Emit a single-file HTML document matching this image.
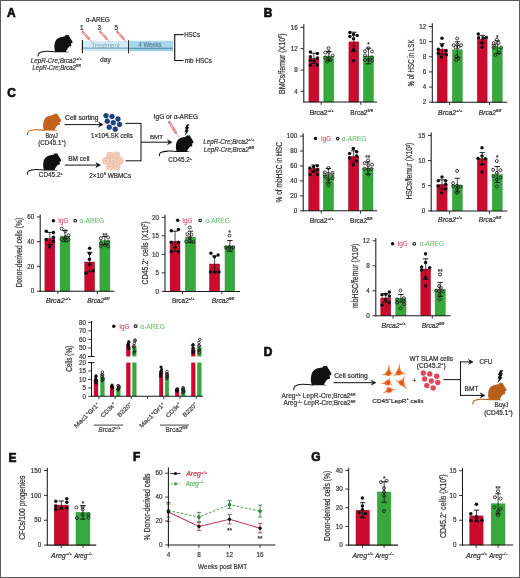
<!DOCTYPE html>
<html><head><meta charset="utf-8"><style>
html,body{margin:0;padding:0;background:#fff;}
body{width:520px;height:578px;overflow:hidden;}
svg{display:block;font-family:"Liberation Sans",sans-serif;will-change:transform;filter:blur(0.3px);}
</style></head><body>
<svg width="520" height="578" viewBox="0 0 520 578">
<rect x="0" y="0" width="520" height="578" fill="#fff"/>
<text x="6.95" y="17.25" font-size="11.9" text-anchor="start" fill="#111" font-weight="bold" stroke="#111" stroke-width="0.7">A</text>
<g transform="translate(54.4 34.8) scale(1)">
<path d="M6.6,95.5 C1,88 -1,72 0,60 C1,45 5,32 13.3,24.4 C20,18 27,14.5 35.5,13 C43,11.5 50,9.5 55.4,8.9 L58.5,6.7 C60,2 64,0 66.5,0.4 C69,0.8 71,2 72,3.5 C73.5,1.5 75.5,0 77.6,0.6 C79.5,1.5 81,6 82,10 C85,15 90,20 93,26.6 C96,31 99.5,36 100,40 C100,43 98,46 95.4,46.5 C93,47 91,47.5 88.7,48.8 C91,50 93.5,55 93,59.9 C92.5,63 90,64.5 86.5,64.3 C83,64 81.5,65 79.8,66.5 C76,70 73,74 70.9,77.6 C68,82 65.5,86 64.3,88.7 C65,91 65.5,92.5 66.5,93.1 L77.6,93.6 C78.5,94 78.5,95.6 77.6,95.6 Z" fill="#111" transform="scale(0.182)"/>
<path d="M1.5,17 C-2.5,16.7 -6,16.4 -8,16.5 C-10.5,16.7 -13,17.1 -14.9,17.9 C-15.9,18.5 -16.3,19.8 -16.3,21.2" fill="none" stroke="#111" stroke-width="1.05" stroke-linecap="round"/>
</g>
<text x="30.8" y="62.7" font-size="6.3" text-anchor="start" fill="#3a3a3a" stroke="#3a3a3a" stroke-width="0.22" font-style="italic" textLength="51" lengthAdjust="spacingAndGlyphs">LepR-Cre;Brca2<tspan dy="-2.8" font-size="4">+/+</tspan></text>
<text x="32.5" y="69.9" font-size="6.3" text-anchor="start" fill="#3a3a3a" stroke="#3a3a3a" stroke-width="0.22" font-style="italic" textLength="48.3" lengthAdjust="spacingAndGlyphs">LepR-Cre;Brca2<tspan dy="-2.8" font-size="4">fl/fl</tspan></text>
<rect x="82.5" y="41" width="46" height="6.6" fill="#d3ebf6"/>
<rect x="82.5" y="47.4" width="46" height="1.9" fill="#86b6cc"/>
<rect x="82.5" y="49.3" width="46" height="1.6" fill="#cde6f1"/>
<rect x="128.5" y="40.8" width="44.6" height="6.8" fill="#a8d7eb"/>
<rect x="128.5" y="47.5" width="44.6" height="2" fill="#5b9cba"/>
<rect x="128.5" y="49.5" width="44.6" height="1.7" fill="#9ccde3"/>
<text x="91.5" y="47.9" font-size="6.6" text-anchor="start" fill="#86a6b8" textLength="28.3" lengthAdjust="spacingAndGlyphs">Treatment</text>
<text x="138.5" y="47.4" font-size="6.6" text-anchor="start" fill="#3f6f8b" stroke="#3f6f8b" stroke-width="0.08" textLength="23" lengthAdjust="spacingAndGlyphs">4 Weeks</text>
<line x1="82.4" y1="40" x2="82.4" y2="53.2" stroke="#1a1a1a" stroke-width="1.15"/>
<line x1="128.5" y1="40.2" x2="128.5" y2="53.6" stroke="#1a1a1a" stroke-width="0.9"/>
<text x="85.8" y="22" font-size="6.5" text-anchor="start" fill="#333" stroke="#333" stroke-width="0.22" textLength="24" lengthAdjust="spacingAndGlyphs">&#945;-AREG</text>
<text x="100.1" y="62.1" font-size="6.8" text-anchor="start" fill="#333" stroke="#333" stroke-width="0.22" textLength="10.6" lengthAdjust="spacingAndGlyphs">day</text>
<text x="81.8" y="29.9" font-size="7.4" text-anchor="middle" fill="#333" stroke="#333" stroke-width="0.22" textLength="3.6" lengthAdjust="spacingAndGlyphs">1</text>
<text x="99.4" y="29.9" font-size="7.4" text-anchor="middle" fill="#333" stroke="#333" stroke-width="0.22" textLength="3.6" lengthAdjust="spacingAndGlyphs">3</text>
<text x="116.2" y="29.9" font-size="7.4" text-anchor="middle" fill="#333" stroke="#333" stroke-width="0.22" textLength="3.6" lengthAdjust="spacingAndGlyphs">5</text>
<g transform="translate(82.3 31.5) rotate(47.51)"><rect x="0" y="-0.45" width="1.6" height="0.9" fill="#c03048"/><rect x="-0.3" y="-1.5" width="0.7" height="3" fill="#c85068"/><rect x="1.6" y="-1" width="9" height="2" fill="#f4b8c0" stroke="#d45c70" stroke-width="0.5"/><rect x="5.95" y="-0.6" width="4.64" height="1.2" fill="#f08c70"/><line x1="10.6" y1="0" x2="14.51" y2="0" stroke="#c04a5a" stroke-width="0.45"/></g>
<g transform="translate(100.1 31.5) rotate(47.51)"><rect x="0" y="-0.45" width="1.6" height="0.9" fill="#c03048"/><rect x="-0.3" y="-1.5" width="0.7" height="3" fill="#c85068"/><rect x="1.6" y="-1" width="9" height="2" fill="#f4b8c0" stroke="#d45c70" stroke-width="0.5"/><rect x="5.95" y="-0.6" width="4.64" height="1.2" fill="#f08c70"/><line x1="10.6" y1="0" x2="14.51" y2="0" stroke="#c04a5a" stroke-width="0.45"/></g>
<g transform="translate(117 31.5) rotate(47.51)"><rect x="0" y="-0.45" width="1.6" height="0.9" fill="#c03048"/><rect x="-0.3" y="-1.5" width="0.7" height="3" fill="#c85068"/><rect x="1.6" y="-1" width="9" height="2" fill="#f4b8c0" stroke="#d45c70" stroke-width="0.5"/><rect x="5.95" y="-0.6" width="4.64" height="1.2" fill="#f08c70"/><line x1="10.6" y1="0" x2="14.51" y2="0" stroke="#c04a5a" stroke-width="0.45"/></g>
<line x1="174.7" y1="34.2" x2="174.7" y2="60.8" stroke="#1a1a1a" stroke-width="1.2"/>
<line x1="174.7" y1="34.6" x2="183.6" y2="34.6" stroke="#1a1a1a" stroke-width="1.1"/>
<line x1="174.7" y1="60.5" x2="183.6" y2="60.5" stroke="#1a1a1a" stroke-width="1.1"/>
<text x="184.2" y="36.9" font-size="6.6" text-anchor="start" fill="#333" stroke="#333" stroke-width="0.22" textLength="15.8" lengthAdjust="spacingAndGlyphs">HSCs</text>
<text x="184.8" y="62.9" font-size="6.6" text-anchor="start" fill="#333" stroke="#333" stroke-width="0.22" textLength="27.2" lengthAdjust="spacingAndGlyphs">mb HSCs</text>
<text x="263.75" y="17.05" font-size="11.9" text-anchor="start" fill="#111" font-weight="bold" stroke="#111" stroke-width="0.7">B</text>
<rect x="308.9" y="58.3" width="10" height="43.7" fill="#cc0a2e" stroke="#8e0a22" stroke-width="0.45"/>
<rect x="323.8" y="56.1" width="10" height="45.9" fill="#37a93c" stroke="#2a8a30" stroke-width="0.45"/>
<rect x="348.9" y="41.9" width="9.8" height="60.1" fill="#cc0a2e" stroke="#8e0a22" stroke-width="0.45"/>
<rect x="363.4" y="56" width="10" height="46" fill="#37a93c" stroke="#2a8a30" stroke-width="0.45"/>
<line x1="313.9" y1="53.2" x2="313.9" y2="63.4" stroke="#151515" stroke-width="0.8"/>
<line x1="311.2" y1="53.2" x2="316.6" y2="53.2" stroke="#151515" stroke-width="0.95"/>
<line x1="311.2" y1="63.4" x2="316.6" y2="63.4" stroke="#151515" stroke-width="0.95"/>
<circle cx="310.4" cy="52" r="1.75" fill="#111"/>
<circle cx="317.4" cy="53.6" r="1.75" fill="#111"/>
<circle cx="310.4" cy="56.7" r="1.75" fill="#111"/>
<circle cx="317.4" cy="58" r="1.75" fill="#111"/>
<circle cx="310.4" cy="60.2" r="1.75" fill="#111"/>
<circle cx="310.4" cy="65.3" r="1.75" fill="#111"/>
<circle cx="317.4" cy="65" r="1.75" fill="#111"/>
<circle cx="314" cy="61" r="1.75" fill="#111"/>
<line x1="328.8" y1="51.5" x2="328.8" y2="60.7" stroke="#151515" stroke-width="0.8"/>
<line x1="326.1" y1="51.5" x2="331.5" y2="51.5" stroke="#151515" stroke-width="0.95"/>
<line x1="326.1" y1="60.7" x2="331.5" y2="60.7" stroke="#151515" stroke-width="0.95"/>
<circle cx="328.5" cy="48.2" r="1.5" fill="none" stroke="#1e1e1e" stroke-width="0.85"/>
<circle cx="325.3" cy="52.6" r="1.5" fill="none" stroke="#1e1e1e" stroke-width="0.85"/>
<circle cx="328.8" cy="52" r="1.5" fill="none" stroke="#1e1e1e" stroke-width="0.85"/>
<circle cx="332.6" cy="55.5" r="1.5" fill="none" stroke="#1e1e1e" stroke-width="0.85"/>
<circle cx="325.3" cy="57.7" r="1.5" fill="none" stroke="#1e1e1e" stroke-width="0.85"/>
<circle cx="328.8" cy="58.3" r="1.5" fill="none" stroke="#1e1e1e" stroke-width="0.85"/>
<circle cx="330.4" cy="59.9" r="1.5" fill="none" stroke="#1e1e1e" stroke-width="0.85"/>
<circle cx="327.2" cy="61.5" r="1.5" fill="none" stroke="#1e1e1e" stroke-width="0.85"/>
<line x1="353.8" y1="32.2" x2="353.8" y2="51.6" stroke="#151515" stroke-width="0.8"/>
<line x1="351.1" y1="32.2" x2="356.5" y2="32.2" stroke="#151515" stroke-width="0.95"/>
<line x1="351.1" y1="51.6" x2="356.5" y2="51.6" stroke="#151515" stroke-width="0.95"/>
<circle cx="349.9" cy="32.6" r="1.75" fill="#111"/>
<circle cx="353.5" cy="34.5" r="1.75" fill="#111"/>
<circle cx="357.2" cy="35.5" r="1.75" fill="#111"/>
<circle cx="349.9" cy="36.5" r="1.75" fill="#111"/>
<circle cx="353.5" cy="38.8" r="1.75" fill="#111"/>
<circle cx="353.5" cy="49.7" r="1.75" fill="#111"/>
<circle cx="353.5" cy="60.8" r="1.75" fill="#111"/>
<line x1="368.4" y1="48.2" x2="368.4" y2="63.8" stroke="#151515" stroke-width="0.8"/>
<line x1="365.7" y1="48.2" x2="371.1" y2="48.2" stroke="#151515" stroke-width="0.95"/>
<line x1="365.7" y1="63.8" x2="371.1" y2="63.8" stroke="#151515" stroke-width="0.95"/>
<circle cx="368.4" cy="48.1" r="1.5" fill="none" stroke="#1e1e1e" stroke-width="0.85"/>
<circle cx="365" cy="51.2" r="1.5" fill="none" stroke="#1e1e1e" stroke-width="0.85"/>
<circle cx="372" cy="51.5" r="1.5" fill="none" stroke="#1e1e1e" stroke-width="0.85"/>
<circle cx="365" cy="55.4" r="1.5" fill="none" stroke="#1e1e1e" stroke-width="0.85"/>
<circle cx="372" cy="57.5" r="1.5" fill="none" stroke="#1e1e1e" stroke-width="0.85"/>
<circle cx="365" cy="59.8" r="1.5" fill="none" stroke="#1e1e1e" stroke-width="0.85"/>
<circle cx="372" cy="60.8" r="1.5" fill="none" stroke="#1e1e1e" stroke-width="0.85"/>
<circle cx="368.4" cy="59.8" r="1.5" fill="none" stroke="#1e1e1e" stroke-width="0.85"/>
<text x="368.4" y="47.1" font-size="6.4" text-anchor="middle" fill="#333" stroke="#333" stroke-width="0.22">*</text>
<line x1="303.8" y1="24.2" x2="303.8" y2="102.5" stroke="#1a1a1a" stroke-width="1.05"/>
<line x1="303.3" y1="102" x2="377" y2="102" stroke="#1a1a1a" stroke-width="1.05"/>
<line x1="300.5" y1="91.34" x2="303.8" y2="91.34" stroke="#1a1a1a" stroke-width="0.9"/>
<text x="297.8" y="93.58" font-size="6.3" text-anchor="end" fill="#3c3c3c" stroke="#3c3c3c" stroke-width="0.22">4</text>
<line x1="300.5" y1="70.02" x2="303.8" y2="70.02" stroke="#1a1a1a" stroke-width="0.9"/>
<text x="297.8" y="72.26" font-size="6.3" text-anchor="end" fill="#3c3c3c" stroke="#3c3c3c" stroke-width="0.22">8</text>
<line x1="300.5" y1="48.7" x2="303.8" y2="48.7" stroke="#1a1a1a" stroke-width="0.9"/>
<text x="297.8" y="50.94" font-size="6.3" text-anchor="end" fill="#3c3c3c" stroke="#3c3c3c" stroke-width="0.22">12</text>
<line x1="300.5" y1="27.38" x2="303.8" y2="27.38" stroke="#1a1a1a" stroke-width="0.9"/>
<text x="297.8" y="29.62" font-size="6.3" text-anchor="end" fill="#3c3c3c" stroke="#3c3c3c" stroke-width="0.22">16</text>
<line x1="321.2" y1="102" x2="321.2" y2="104.8" stroke="#1a1a1a" stroke-width="0.9"/>
<line x1="360.8" y1="102" x2="360.8" y2="104.8" stroke="#1a1a1a" stroke-width="0.9"/>
<text x="285.3" y="63.65" font-size="8.3" text-anchor="middle" fill="#333" stroke="#333" stroke-width="0.22" transform="rotate(-90 285.3 63.65)" textLength="60.7" lengthAdjust="spacingAndGlyphs">BMCs/femur (X10<tspan dy="-2.8" font-size="4.6">6</tspan><tspan dy="2.8">)</tspan></text>
<text x="321.8" y="114.8" font-size="6.6" text-anchor="middle" fill="#333" stroke="#333" stroke-width="0.22" textLength="24.2" lengthAdjust="spacingAndGlyphs">Brca2<tspan dy="-2.64" font-size="4.09">+/+</tspan></text>
<text x="361.5" y="114.8" font-size="6.6" text-anchor="middle" fill="#333" stroke="#333" stroke-width="0.22" textLength="22.4" lengthAdjust="spacingAndGlyphs">Brca2<tspan dy="-2.64" font-size="4.09">fl/fl</tspan></text>
<rect x="437.2" y="49.2" width="9.9" height="53" fill="#cc0a2e" stroke="#8e0a22" stroke-width="0.45"/>
<rect x="452.4" y="49.8" width="9.9" height="52.4" fill="#37a93c" stroke="#2a8a30" stroke-width="0.45"/>
<rect x="477.3" y="39.2" width="9.8" height="63" fill="#cc0a2e" stroke="#8e0a22" stroke-width="0.45"/>
<rect x="492.3" y="47.2" width="9.9" height="55" fill="#37a93c" stroke="#2a8a30" stroke-width="0.45"/>
<line x1="442.15" y1="43.7" x2="442.15" y2="54.7" stroke="#151515" stroke-width="0.8"/>
<line x1="439.45" y1="43.7" x2="444.85" y2="43.7" stroke="#151515" stroke-width="0.95"/>
<line x1="439.45" y1="54.7" x2="444.85" y2="54.7" stroke="#151515" stroke-width="0.95"/>
<circle cx="442" cy="38.2" r="1.75" fill="#111"/>
<circle cx="442" cy="45.2" r="1.75" fill="#111"/>
<circle cx="438.3" cy="49.2" r="1.75" fill="#111"/>
<circle cx="446" cy="50.8" r="1.75" fill="#111"/>
<circle cx="438.3" cy="53.2" r="1.75" fill="#111"/>
<circle cx="446.3" cy="54.8" r="1.75" fill="#111"/>
<circle cx="441.4" cy="56.9" r="1.75" fill="#111"/>
<line x1="457.35" y1="41.8" x2="457.35" y2="57.8" stroke="#151515" stroke-width="0.8"/>
<line x1="454.65" y1="41.8" x2="460.05" y2="41.8" stroke="#151515" stroke-width="0.95"/>
<line x1="454.65" y1="57.8" x2="460.05" y2="57.8" stroke="#151515" stroke-width="0.95"/>
<circle cx="457.1" cy="38.5" r="1.5" fill="none" stroke="#1e1e1e" stroke-width="0.85"/>
<circle cx="453.7" cy="45.2" r="1.5" fill="none" stroke="#1e1e1e" stroke-width="0.85"/>
<circle cx="457.4" cy="44.6" r="1.5" fill="none" stroke="#1e1e1e" stroke-width="0.85"/>
<circle cx="461.1" cy="45.2" r="1.5" fill="none" stroke="#1e1e1e" stroke-width="0.85"/>
<circle cx="455.5" cy="47.4" r="1.5" fill="none" stroke="#1e1e1e" stroke-width="0.85"/>
<circle cx="458.6" cy="46.8" r="1.5" fill="none" stroke="#1e1e1e" stroke-width="0.85"/>
<circle cx="456.5" cy="56.3" r="1.5" fill="none" stroke="#1e1e1e" stroke-width="0.85"/>
<circle cx="458.3" cy="58.2" r="1.5" fill="none" stroke="#1e1e1e" stroke-width="0.85"/>
<circle cx="456.2" cy="60" r="1.5" fill="none" stroke="#1e1e1e" stroke-width="0.85"/>
<line x1="482.2" y1="35.4" x2="482.2" y2="43" stroke="#151515" stroke-width="0.8"/>
<line x1="479.5" y1="35.4" x2="484.9" y2="35.4" stroke="#151515" stroke-width="0.95"/>
<line x1="479.5" y1="43" x2="484.9" y2="43" stroke="#151515" stroke-width="0.95"/>
<circle cx="478.3" cy="34" r="1.75" fill="#111"/>
<circle cx="478.6" cy="37.7" r="1.75" fill="#111"/>
<circle cx="483.2" cy="38" r="1.75" fill="#111"/>
<circle cx="486.3" cy="37.4" r="1.75" fill="#111"/>
<circle cx="482" cy="42.9" r="1.75" fill="#111"/>
<circle cx="482" cy="47.2" r="1.75" fill="#111"/>
<line x1="497.25" y1="40.8" x2="497.25" y2="53.6" stroke="#151515" stroke-width="0.8"/>
<line x1="494.55" y1="40.8" x2="499.95" y2="40.8" stroke="#151515" stroke-width="0.95"/>
<line x1="494.55" y1="53.6" x2="499.95" y2="53.6" stroke="#151515" stroke-width="0.95"/>
<circle cx="496.8" cy="39.8" r="1.5" fill="none" stroke="#1e1e1e" stroke-width="0.85"/>
<circle cx="493.7" cy="43.2" r="1.5" fill="none" stroke="#1e1e1e" stroke-width="0.85"/>
<circle cx="498.6" cy="42.9" r="1.5" fill="none" stroke="#1e1e1e" stroke-width="0.85"/>
<circle cx="493.7" cy="45.4" r="1.5" fill="none" stroke="#1e1e1e" stroke-width="0.85"/>
<circle cx="496.5" cy="45.1" r="1.5" fill="none" stroke="#1e1e1e" stroke-width="0.85"/>
<circle cx="501.1" cy="47.5" r="1.5" fill="none" stroke="#1e1e1e" stroke-width="0.85"/>
<circle cx="493.7" cy="47.5" r="1.5" fill="none" stroke="#1e1e1e" stroke-width="0.85"/>
<circle cx="499.2" cy="52.8" r="1.5" fill="none" stroke="#1e1e1e" stroke-width="0.85"/>
<circle cx="495.5" cy="54.9" r="1.5" fill="none" stroke="#1e1e1e" stroke-width="0.85"/>
<text x="497.25" y="39.7" font-size="6.4" text-anchor="middle" fill="#333" stroke="#333" stroke-width="0.22">*</text>
<line x1="432.3" y1="23.3" x2="432.3" y2="102.7" stroke="#1a1a1a" stroke-width="1.05"/>
<line x1="431.8" y1="102.2" x2="507.3" y2="102.2" stroke="#1a1a1a" stroke-width="1.05"/>
<line x1="429" y1="102.2" x2="432.3" y2="102.2" stroke="#1a1a1a" stroke-width="0.9"/>
<text x="426.3" y="104.44" font-size="6.3" text-anchor="end" fill="#3c3c3c" stroke="#3c3c3c" stroke-width="0.22">2</text>
<line x1="429" y1="87.06" x2="432.3" y2="87.06" stroke="#1a1a1a" stroke-width="0.9"/>
<text x="426.3" y="89.3" font-size="6.3" text-anchor="end" fill="#3c3c3c" stroke="#3c3c3c" stroke-width="0.22">4</text>
<line x1="429" y1="71.92" x2="432.3" y2="71.92" stroke="#1a1a1a" stroke-width="0.9"/>
<text x="426.3" y="74.16" font-size="6.3" text-anchor="end" fill="#3c3c3c" stroke="#3c3c3c" stroke-width="0.22">6</text>
<line x1="429" y1="56.78" x2="432.3" y2="56.78" stroke="#1a1a1a" stroke-width="0.9"/>
<text x="426.3" y="59.02" font-size="6.3" text-anchor="end" fill="#3c3c3c" stroke="#3c3c3c" stroke-width="0.22">8</text>
<line x1="429" y1="41.64" x2="432.3" y2="41.64" stroke="#1a1a1a" stroke-width="0.9"/>
<text x="426.3" y="43.88" font-size="6.3" text-anchor="end" fill="#3c3c3c" stroke="#3c3c3c" stroke-width="0.22">10</text>
<line x1="429" y1="26.5" x2="432.3" y2="26.5" stroke="#1a1a1a" stroke-width="0.9"/>
<text x="426.3" y="28.74" font-size="6.3" text-anchor="end" fill="#3c3c3c" stroke="#3c3c3c" stroke-width="0.22">12</text>
<line x1="449.6" y1="102.2" x2="449.6" y2="105" stroke="#1a1a1a" stroke-width="0.9"/>
<line x1="489.5" y1="102.2" x2="489.5" y2="105" stroke="#1a1a1a" stroke-width="0.9"/>
<text x="413.9" y="63" font-size="8.3" text-anchor="middle" fill="#333" stroke="#333" stroke-width="0.22" transform="rotate(-90 413.9 63)" textLength="47.2" lengthAdjust="spacingAndGlyphs">% of HSC in LSK</text>
<text x="450.2" y="115" font-size="6.6" text-anchor="middle" fill="#333" stroke="#333" stroke-width="0.22" font-style="italic" textLength="24.2" lengthAdjust="spacingAndGlyphs">Brca2<tspan dy="-2.64" font-size="4.09">+/+</tspan></text>
<text x="490" y="115" font-size="6.6" text-anchor="middle" fill="#333" stroke="#333" stroke-width="0.22" font-style="italic" textLength="22.4" lengthAdjust="spacingAndGlyphs">Brca2<tspan dy="-2.64" font-size="4.09">fl/fl</tspan></text>
<rect x="308.7" y="168.3" width="10.4" height="42.5" fill="#cc0a2e" stroke="#8e0a22" stroke-width="0.45"/>
<rect x="323.3" y="175.7" width="10.2" height="35.1" fill="#37a93c" stroke="#2a8a30" stroke-width="0.45"/>
<rect x="348.5" y="156.4" width="10.3" height="54.4" fill="#cc0a2e" stroke="#8e0a22" stroke-width="0.45"/>
<rect x="362.7" y="168.1" width="10.3" height="42.7" fill="#37a93c" stroke="#2a8a30" stroke-width="0.45"/>
<line x1="313.9" y1="165" x2="313.9" y2="171.6" stroke="#151515" stroke-width="0.8"/>
<line x1="311.2" y1="165" x2="316.6" y2="165" stroke="#151515" stroke-width="0.95"/>
<line x1="311.2" y1="171.6" x2="316.6" y2="171.6" stroke="#151515" stroke-width="0.95"/>
<circle cx="317.3" cy="165.8" r="1.75" fill="#111"/>
<circle cx="313.6" cy="166.8" r="1.75" fill="#111"/>
<circle cx="309.9" cy="168" r="1.75" fill="#111"/>
<circle cx="317.3" cy="169.8" r="1.75" fill="#111"/>
<circle cx="313.6" cy="171.4" r="1.75" fill="#111"/>
<circle cx="310.2" cy="174.5" r="1.75" fill="#111"/>
<circle cx="317.3" cy="174.5" r="1.75" fill="#111"/>
<line x1="328.4" y1="168.5" x2="328.4" y2="182.9" stroke="#151515" stroke-width="0.8"/>
<line x1="325.7" y1="168.5" x2="331.1" y2="168.5" stroke="#151515" stroke-width="0.95"/>
<line x1="325.7" y1="182.9" x2="331.1" y2="182.9" stroke="#151515" stroke-width="0.95"/>
<circle cx="328.4" cy="168" r="1.5" fill="none" stroke="#1e1e1e" stroke-width="0.85"/>
<circle cx="324.7" cy="172.3" r="1.5" fill="none" stroke="#1e1e1e" stroke-width="0.85"/>
<circle cx="332.4" cy="172.9" r="1.5" fill="none" stroke="#1e1e1e" stroke-width="0.85"/>
<circle cx="324.7" cy="174.5" r="1.5" fill="none" stroke="#1e1e1e" stroke-width="0.85"/>
<circle cx="332.4" cy="174.5" r="1.5" fill="none" stroke="#1e1e1e" stroke-width="0.85"/>
<circle cx="328.4" cy="173.8" r="1.5" fill="none" stroke="#1e1e1e" stroke-width="0.85"/>
<circle cx="325.3" cy="176.6" r="1.5" fill="none" stroke="#1e1e1e" stroke-width="0.85"/>
<circle cx="332.7" cy="178.2" r="1.5" fill="none" stroke="#1e1e1e" stroke-width="0.85"/>
<circle cx="328.4" cy="179.7" r="1.5" fill="none" stroke="#1e1e1e" stroke-width="0.85"/>
<circle cx="328.4" cy="185.2" r="1.5" fill="none" stroke="#1e1e1e" stroke-width="0.85"/>
<line x1="353.65" y1="150.8" x2="353.65" y2="162" stroke="#151515" stroke-width="0.8"/>
<line x1="350.95" y1="150.8" x2="356.35" y2="150.8" stroke="#151515" stroke-width="0.95"/>
<line x1="350.95" y1="162" x2="356.35" y2="162" stroke="#151515" stroke-width="0.95"/>
<circle cx="353.3" cy="148.4" r="1.75" fill="#111"/>
<circle cx="356.7" cy="151.8" r="1.75" fill="#111"/>
<circle cx="349.6" cy="153.6" r="1.75" fill="#111"/>
<circle cx="356.7" cy="156.1" r="1.75" fill="#111"/>
<circle cx="349.6" cy="157.9" r="1.75" fill="#111"/>
<circle cx="356.7" cy="161" r="1.75" fill="#111"/>
<circle cx="353.3" cy="164.7" r="1.75" fill="#111"/>
<line x1="367.85" y1="162" x2="367.85" y2="174.2" stroke="#151515" stroke-width="0.8"/>
<line x1="365.15" y1="162" x2="370.55" y2="162" stroke="#151515" stroke-width="0.95"/>
<line x1="365.15" y1="174.2" x2="370.55" y2="174.2" stroke="#151515" stroke-width="0.95"/>
<circle cx="368.1" cy="160.4" r="1.5" fill="none" stroke="#1e1e1e" stroke-width="0.85"/>
<circle cx="364.7" cy="163.2" r="1.5" fill="none" stroke="#1e1e1e" stroke-width="0.85"/>
<circle cx="372.1" cy="164.7" r="1.5" fill="none" stroke="#1e1e1e" stroke-width="0.85"/>
<circle cx="368.4" cy="165.3" r="1.5" fill="none" stroke="#1e1e1e" stroke-width="0.85"/>
<circle cx="364.7" cy="168.7" r="1.5" fill="none" stroke="#1e1e1e" stroke-width="0.85"/>
<circle cx="371.5" cy="169" r="1.5" fill="none" stroke="#1e1e1e" stroke-width="0.85"/>
<circle cx="368.4" cy="169.6" r="1.5" fill="none" stroke="#1e1e1e" stroke-width="0.85"/>
<circle cx="368.4" cy="174.5" r="1.5" fill="none" stroke="#1e1e1e" stroke-width="0.85"/>
<text x="367.85" y="160" font-size="6.4" text-anchor="middle" fill="#333" stroke="#333" stroke-width="0.22">**</text>
<line x1="303.2" y1="133.2" x2="303.2" y2="211.3" stroke="#1a1a1a" stroke-width="1.05"/>
<line x1="302.7" y1="210.8" x2="377" y2="210.8" stroke="#1a1a1a" stroke-width="1.05"/>
<line x1="299.9" y1="210.8" x2="303.2" y2="210.8" stroke="#1a1a1a" stroke-width="0.9"/>
<text x="297.2" y="213.04" font-size="6.3" text-anchor="end" fill="#3c3c3c" stroke="#3c3c3c" stroke-width="0.22">0</text>
<line x1="299.9" y1="195.86" x2="303.2" y2="195.86" stroke="#1a1a1a" stroke-width="0.9"/>
<text x="297.2" y="198.1" font-size="6.3" text-anchor="end" fill="#3c3c3c" stroke="#3c3c3c" stroke-width="0.22">20</text>
<line x1="299.9" y1="180.92" x2="303.2" y2="180.92" stroke="#1a1a1a" stroke-width="0.9"/>
<text x="297.2" y="183.16" font-size="6.3" text-anchor="end" fill="#3c3c3c" stroke="#3c3c3c" stroke-width="0.22">40</text>
<line x1="299.9" y1="165.98" x2="303.2" y2="165.98" stroke="#1a1a1a" stroke-width="0.9"/>
<text x="297.2" y="168.22" font-size="6.3" text-anchor="end" fill="#3c3c3c" stroke="#3c3c3c" stroke-width="0.22">60</text>
<line x1="299.9" y1="151.04" x2="303.2" y2="151.04" stroke="#1a1a1a" stroke-width="0.9"/>
<text x="297.2" y="153.28" font-size="6.3" text-anchor="end" fill="#3c3c3c" stroke="#3c3c3c" stroke-width="0.22">80</text>
<line x1="299.9" y1="136.1" x2="303.2" y2="136.1" stroke="#1a1a1a" stroke-width="0.9"/>
<text x="297.2" y="138.34" font-size="6.3" text-anchor="end" fill="#3c3c3c" stroke="#3c3c3c" stroke-width="0.22">100</text>
<line x1="321.2" y1="210.8" x2="321.2" y2="213.6" stroke="#1a1a1a" stroke-width="0.9"/>
<line x1="360.5" y1="210.8" x2="360.5" y2="213.6" stroke="#1a1a1a" stroke-width="0.9"/>
<text x="282.1" y="172.25" font-size="8.3" text-anchor="middle" fill="#333" stroke="#333" stroke-width="0.22" transform="rotate(-90 282.1 172.25)" textLength="60.3" lengthAdjust="spacingAndGlyphs">% of mbHSC in HSC</text>
<circle cx="315.4" cy="138.6" r="1.75" fill="#111"/>
<circle cx="337.7" cy="138.6" r="1.35" fill="none" stroke="#222" stroke-width="1.1"/>
<text x="321" y="140.9" font-size="6.5" text-anchor="start" fill="#d23652" stroke="#d23652" stroke-width="0.05" textLength="10.2" lengthAdjust="spacingAndGlyphs">IgG</text>
<text x="341.8" y="140.9" font-size="6.5" text-anchor="start" fill="#62bb66" stroke="#62bb66" stroke-width="0.05" textLength="24.6" lengthAdjust="spacingAndGlyphs">&#945;-AREG</text>
<text x="321.8" y="223" font-size="6.6" text-anchor="middle" fill="#333" stroke="#333" stroke-width="0.22" textLength="24.2" lengthAdjust="spacingAndGlyphs">Brca2<tspan dy="-2.64" font-size="4.09">+/+</tspan></text>
<text x="361.2" y="223" font-size="6.6" text-anchor="middle" fill="#333" stroke="#333" stroke-width="0.22" textLength="22.4" lengthAdjust="spacingAndGlyphs">Brca2<tspan dy="-2.64" font-size="4.09">fl/fl</tspan></text>
<rect x="436.9" y="184.5" width="10.2" height="26.4" fill="#cc0a2e" stroke="#8e0a22" stroke-width="0.45"/>
<rect x="452.4" y="185.1" width="9.9" height="25.8" fill="#37a93c" stroke="#2a8a30" stroke-width="0.45"/>
<rect x="477.3" y="158.5" width="9.8" height="52.4" fill="#cc0a2e" stroke="#8e0a22" stroke-width="0.45"/>
<rect x="492.3" y="174.5" width="9.9" height="36.4" fill="#37a93c" stroke="#2a8a30" stroke-width="0.45"/>
<line x1="442" y1="179.8" x2="442" y2="189.2" stroke="#151515" stroke-width="0.8"/>
<line x1="439.3" y1="179.8" x2="444.7" y2="179.8" stroke="#151515" stroke-width="0.95"/>
<line x1="439.3" y1="189.2" x2="444.7" y2="189.2" stroke="#151515" stroke-width="0.95"/>
<circle cx="442" cy="177.1" r="1.75" fill="#111"/>
<circle cx="438.3" cy="180.8" r="1.75" fill="#111"/>
<circle cx="445.7" cy="180.8" r="1.75" fill="#111"/>
<circle cx="445.7" cy="184.2" r="1.75" fill="#111"/>
<circle cx="438.3" cy="186.3" r="1.75" fill="#111"/>
<circle cx="445.7" cy="189.1" r="1.75" fill="#111"/>
<circle cx="441.7" cy="192.8" r="1.75" fill="#111"/>
<line x1="457.35" y1="178.3" x2="457.35" y2="191.9" stroke="#151515" stroke-width="0.8"/>
<line x1="454.65" y1="178.3" x2="460.05" y2="178.3" stroke="#151515" stroke-width="0.95"/>
<line x1="454.65" y1="191.9" x2="460.05" y2="191.9" stroke="#151515" stroke-width="0.95"/>
<circle cx="457.1" cy="170.9" r="1.5" fill="none" stroke="#1e1e1e" stroke-width="0.85"/>
<circle cx="453.1" cy="183.2" r="1.5" fill="none" stroke="#1e1e1e" stroke-width="0.85"/>
<circle cx="453.1" cy="186.3" r="1.5" fill="none" stroke="#1e1e1e" stroke-width="0.85"/>
<circle cx="457.1" cy="185.7" r="1.5" fill="none" stroke="#1e1e1e" stroke-width="0.85"/>
<circle cx="460.5" cy="186.6" r="1.5" fill="none" stroke="#1e1e1e" stroke-width="0.85"/>
<circle cx="457.1" cy="189.1" r="1.5" fill="none" stroke="#1e1e1e" stroke-width="0.85"/>
<circle cx="457.1" cy="192.8" r="1.5" fill="none" stroke="#1e1e1e" stroke-width="0.85"/>
<line x1="482.2" y1="152.6" x2="482.2" y2="164.4" stroke="#151515" stroke-width="0.8"/>
<line x1="479.5" y1="152.6" x2="484.9" y2="152.6" stroke="#151515" stroke-width="0.95"/>
<line x1="479.5" y1="164.4" x2="484.9" y2="164.4" stroke="#151515" stroke-width="0.95"/>
<circle cx="482" cy="147.7" r="1.75" fill="#111"/>
<circle cx="482" cy="156" r="1.75" fill="#111"/>
<circle cx="478" cy="158.5" r="1.75" fill="#111"/>
<circle cx="485.4" cy="158.8" r="1.75" fill="#111"/>
<circle cx="482" cy="164.3" r="1.75" fill="#111"/>
<circle cx="482" cy="172" r="1.75" fill="#111"/>
<line x1="497.25" y1="166.5" x2="497.25" y2="182.5" stroke="#151515" stroke-width="0.8"/>
<line x1="494.55" y1="166.5" x2="499.95" y2="166.5" stroke="#151515" stroke-width="0.95"/>
<line x1="494.55" y1="182.5" x2="499.95" y2="182.5" stroke="#151515" stroke-width="0.95"/>
<circle cx="496.8" cy="161" r="1.5" fill="none" stroke="#1e1e1e" stroke-width="0.85"/>
<circle cx="493.1" cy="169.8" r="1.5" fill="none" stroke="#1e1e1e" stroke-width="0.85"/>
<circle cx="500.5" cy="170.2" r="1.5" fill="none" stroke="#1e1e1e" stroke-width="0.85"/>
<circle cx="496.8" cy="172.9" r="1.5" fill="none" stroke="#1e1e1e" stroke-width="0.85"/>
<circle cx="493.4" cy="176" r="1.5" fill="none" stroke="#1e1e1e" stroke-width="0.85"/>
<circle cx="500.5" cy="177.5" r="1.5" fill="none" stroke="#1e1e1e" stroke-width="0.85"/>
<circle cx="496.8" cy="179.7" r="1.5" fill="none" stroke="#1e1e1e" stroke-width="0.85"/>
<circle cx="496.8" cy="186.5" r="1.5" fill="none" stroke="#1e1e1e" stroke-width="0.85"/>
<text x="497.25" y="160.2" font-size="6.4" text-anchor="middle" fill="#333" stroke="#333" stroke-width="0.22">*</text>
<line x1="431.2" y1="132.5" x2="431.2" y2="211.4" stroke="#1a1a1a" stroke-width="1.05"/>
<line x1="430.7" y1="210.9" x2="507.3" y2="210.9" stroke="#1a1a1a" stroke-width="1.05"/>
<line x1="427.9" y1="210.9" x2="431.2" y2="210.9" stroke="#1a1a1a" stroke-width="0.9"/>
<text x="425.2" y="213.14" font-size="6.3" text-anchor="end" fill="#3c3c3c" stroke="#3c3c3c" stroke-width="0.22">0</text>
<line x1="427.9" y1="185.74" x2="431.2" y2="185.74" stroke="#1a1a1a" stroke-width="0.9"/>
<text x="425.2" y="187.97" font-size="6.3" text-anchor="end" fill="#3c3c3c" stroke="#3c3c3c" stroke-width="0.22">5</text>
<line x1="427.9" y1="160.57" x2="431.2" y2="160.57" stroke="#1a1a1a" stroke-width="0.9"/>
<text x="425.2" y="162.81" font-size="6.3" text-anchor="end" fill="#3c3c3c" stroke="#3c3c3c" stroke-width="0.22">10</text>
<line x1="427.9" y1="135.41" x2="431.2" y2="135.41" stroke="#1a1a1a" stroke-width="0.9"/>
<text x="425.2" y="137.64" font-size="6.3" text-anchor="end" fill="#3c3c3c" stroke="#3c3c3c" stroke-width="0.22">15</text>
<line x1="449.6" y1="210.9" x2="449.6" y2="213.7" stroke="#1a1a1a" stroke-width="0.9"/>
<line x1="489.5" y1="210.9" x2="489.5" y2="213.7" stroke="#1a1a1a" stroke-width="0.9"/>
<text x="412.5" y="171.2" font-size="8.3" text-anchor="middle" fill="#333" stroke="#333" stroke-width="0.22" transform="rotate(-90 412.5 171.2)" textLength="56.8" lengthAdjust="spacingAndGlyphs">HSCs/femur (X10<tspan dy="-2.8" font-size="4.6">3</tspan><tspan dy="2.8">)</tspan></text>
<text x="450.2" y="221.5" font-size="6.6" text-anchor="middle" fill="#333" stroke="#333" stroke-width="0.22" font-style="italic" textLength="24.2" lengthAdjust="spacingAndGlyphs">Brca2<tspan dy="-2.64" font-size="4.09">+/+</tspan></text>
<text x="490" y="221.5" font-size="6.6" text-anchor="middle" fill="#333" stroke="#333" stroke-width="0.22" font-style="italic" textLength="22.4" lengthAdjust="spacingAndGlyphs">Brca2<tspan dy="-2.64" font-size="4.09">fl/fl</tspan></text>
<rect x="380.8" y="297.9" width="10" height="17.9" fill="#cc0a2e" stroke="#8e0a22" stroke-width="0.45"/>
<rect x="395.8" y="298.2" width="10.2" height="17.6" fill="#37a93c" stroke="#2a8a30" stroke-width="0.45"/>
<rect x="420.8" y="269.1" width="9.8" height="46.7" fill="#cc0a2e" stroke="#8e0a22" stroke-width="0.45"/>
<rect x="435.1" y="289.4" width="10.2" height="26.4" fill="#37a93c" stroke="#2a8a30" stroke-width="0.45"/>
<line x1="385.8" y1="293.6" x2="385.8" y2="302.2" stroke="#151515" stroke-width="0.8"/>
<line x1="383.1" y1="293.6" x2="388.5" y2="293.6" stroke="#151515" stroke-width="0.95"/>
<line x1="383.1" y1="302.2" x2="388.5" y2="302.2" stroke="#151515" stroke-width="0.95"/>
<circle cx="389.4" cy="292.1" r="1.75" fill="#111"/>
<circle cx="382" cy="294.8" r="1.75" fill="#111"/>
<circle cx="385.7" cy="294.2" r="1.75" fill="#111"/>
<circle cx="389.4" cy="296.1" r="1.75" fill="#111"/>
<circle cx="385.7" cy="299.8" r="1.75" fill="#111"/>
<circle cx="389.4" cy="302.8" r="1.75" fill="#111"/>
<circle cx="382" cy="305" r="1.75" fill="#111"/>
<line x1="400.9" y1="294.5" x2="400.9" y2="301.9" stroke="#151515" stroke-width="0.8"/>
<line x1="398.2" y1="294.5" x2="403.6" y2="294.5" stroke="#151515" stroke-width="0.95"/>
<line x1="398.2" y1="301.9" x2="403.6" y2="301.9" stroke="#151515" stroke-width="0.95"/>
<circle cx="400.5" cy="290.5" r="1.5" fill="none" stroke="#1e1e1e" stroke-width="0.85"/>
<circle cx="397.1" cy="299.5" r="1.5" fill="none" stroke="#1e1e1e" stroke-width="0.85"/>
<circle cx="403.8" cy="298.2" r="1.5" fill="none" stroke="#1e1e1e" stroke-width="0.85"/>
<circle cx="397.1" cy="302.8" r="1.5" fill="none" stroke="#1e1e1e" stroke-width="0.85"/>
<circle cx="403.8" cy="301" r="1.5" fill="none" stroke="#1e1e1e" stroke-width="0.85"/>
<circle cx="403.8" cy="304.1" r="1.5" fill="none" stroke="#1e1e1e" stroke-width="0.85"/>
<circle cx="400.5" cy="308.4" r="1.5" fill="none" stroke="#1e1e1e" stroke-width="0.85"/>
<line x1="425.7" y1="258.8" x2="425.7" y2="279.4" stroke="#151515" stroke-width="0.8"/>
<line x1="423" y1="258.8" x2="428.4" y2="258.8" stroke="#151515" stroke-width="0.95"/>
<line x1="423" y1="279.4" x2="428.4" y2="279.4" stroke="#151515" stroke-width="0.95"/>
<circle cx="425.6" cy="253.8" r="1.75" fill="#111"/>
<circle cx="425.6" cy="262.4" r="1.75" fill="#111"/>
<circle cx="421.6" cy="266.9" r="1.75" fill="#111"/>
<circle cx="429.7" cy="267.8" r="1.75" fill="#111"/>
<circle cx="421.6" cy="270" r="1.75" fill="#111"/>
<circle cx="425.6" cy="277.7" r="1.75" fill="#111"/>
<circle cx="425.6" cy="285.8" r="1.75" fill="#111"/>
<line x1="440.2" y1="282.4" x2="440.2" y2="296.4" stroke="#151515" stroke-width="0.8"/>
<line x1="437.5" y1="282.4" x2="442.9" y2="282.4" stroke="#151515" stroke-width="0.95"/>
<line x1="437.5" y1="296.4" x2="442.9" y2="296.4" stroke="#151515" stroke-width="0.95"/>
<circle cx="440" cy="274.5" r="1.5" fill="none" stroke="#1e1e1e" stroke-width="0.85"/>
<circle cx="439.1" cy="286.1" r="1.5" fill="none" stroke="#1e1e1e" stroke-width="0.85"/>
<circle cx="440.9" cy="287.9" r="1.5" fill="none" stroke="#1e1e1e" stroke-width="0.85"/>
<circle cx="436.1" cy="290.6" r="1.5" fill="none" stroke="#1e1e1e" stroke-width="0.85"/>
<circle cx="439.1" cy="291.2" r="1.5" fill="none" stroke="#1e1e1e" stroke-width="0.85"/>
<circle cx="443" cy="291.5" r="1.5" fill="none" stroke="#1e1e1e" stroke-width="0.85"/>
<circle cx="439.7" cy="295.2" r="1.5" fill="none" stroke="#1e1e1e" stroke-width="0.85"/>
<circle cx="439.7" cy="299.4" r="1.5" fill="none" stroke="#1e1e1e" stroke-width="0.85"/>
<text x="440.2" y="273.5" font-size="6.4" text-anchor="middle" fill="#333" stroke="#333" stroke-width="0.22">**</text>
<line x1="375.8" y1="238" x2="375.8" y2="316.3" stroke="#1a1a1a" stroke-width="1.05"/>
<line x1="375.3" y1="315.8" x2="450.5" y2="315.8" stroke="#1a1a1a" stroke-width="1.05"/>
<line x1="372.5" y1="315.8" x2="375.8" y2="315.8" stroke="#1a1a1a" stroke-width="0.9"/>
<text x="369.8" y="318.04" font-size="6.3" text-anchor="end" fill="#3c3c3c" stroke="#3c3c3c" stroke-width="0.22">0</text>
<line x1="372.5" y1="290.8" x2="375.8" y2="290.8" stroke="#1a1a1a" stroke-width="0.9"/>
<text x="369.8" y="293.04" font-size="6.3" text-anchor="end" fill="#3c3c3c" stroke="#3c3c3c" stroke-width="0.22">4</text>
<line x1="372.5" y1="265.8" x2="375.8" y2="265.8" stroke="#1a1a1a" stroke-width="0.9"/>
<text x="369.8" y="268.04" font-size="6.3" text-anchor="end" fill="#3c3c3c" stroke="#3c3c3c" stroke-width="0.22">8</text>
<line x1="372.5" y1="240.8" x2="375.8" y2="240.8" stroke="#1a1a1a" stroke-width="0.9"/>
<text x="369.8" y="243.04" font-size="6.3" text-anchor="end" fill="#3c3c3c" stroke="#3c3c3c" stroke-width="0.22">12</text>
<line x1="393.1" y1="315.8" x2="393.1" y2="318.6" stroke="#1a1a1a" stroke-width="0.9"/>
<line x1="432.3" y1="315.8" x2="432.3" y2="318.6" stroke="#1a1a1a" stroke-width="0.9"/>
<text x="358.5" y="275.85" font-size="8.3" text-anchor="middle" fill="#333" stroke="#333" stroke-width="0.22" transform="rotate(-90 358.5 275.85)" textLength="64.5" lengthAdjust="spacingAndGlyphs">mbHSC/femur (X10<tspan dy="-2.8" font-size="4.6">3</tspan><tspan dy="2.8">)</tspan></text>
<circle cx="392.6" cy="243.8" r="1.75" fill="#111"/>
<circle cx="414.3" cy="243.8" r="1.35" fill="none" stroke="#222" stroke-width="1.1"/>
<text x="397.4" y="246.1" font-size="6.5" text-anchor="start" fill="#d23652" stroke="#d23652" stroke-width="0.05" textLength="10.2" lengthAdjust="spacingAndGlyphs">IgG</text>
<text x="419.6" y="246.1" font-size="6.5" text-anchor="start" fill="#62bb66" stroke="#62bb66" stroke-width="0.05" textLength="24.6" lengthAdjust="spacingAndGlyphs">&#945;-AREG</text>
<text x="393.7" y="328.1" font-size="6.6" text-anchor="middle" fill="#333" stroke="#333" stroke-width="0.22" font-style="italic" textLength="24.2" lengthAdjust="spacingAndGlyphs">Brca2<tspan dy="-2.64" font-size="4.09">+/+</tspan></text>
<text x="433" y="328.1" font-size="6.6" text-anchor="middle" fill="#333" stroke="#333" stroke-width="0.22" font-style="italic" textLength="22.4" lengthAdjust="spacingAndGlyphs">Brca2<tspan dy="-2.64" font-size="4.09">fl/fl</tspan></text>
<text x="7.15" y="97.45" font-size="11.9" text-anchor="start" fill="#111" font-weight="bold" stroke="#111" stroke-width="0.7">C</text>
<g transform="translate(43.2 113.4) scale(0.99)">
<path d="M6.6,95.5 C1,88 -1,72 0,60 C1,45 5,32 13.3,24.4 C20,18 27,14.5 35.5,13 C43,11.5 50,9.5 55.4,8.9 L58.5,6.7 C60,2 64,0 66.5,0.4 C69,0.8 71,2 72,3.5 C73.5,1.5 75.5,0 77.6,0.6 C79.5,1.5 81,6 82,10 C85,15 90,20 93,26.6 C96,31 99.5,36 100,40 C100,43 98,46 95.4,46.5 C93,47 91,47.5 88.7,48.8 C91,50 93.5,55 93,59.9 C92.5,63 90,64.5 86.5,64.3 C83,64 81.5,65 79.8,66.5 C76,70 73,74 70.9,77.6 C68,82 65.5,86 64.3,88.7 C65,91 65.5,92.5 66.5,93.1 L77.6,93.6 C78.5,94 78.5,95.6 77.6,95.6 Z" fill="#c2631d" transform="scale(0.182)"/>
<path d="M1.5,17 C-2.5,16.7 -5.88,16.4 -7.84,16.5 C-10.29,16.7 -12.74,17.1 -14.6,17.9 C-15.58,18.5 -15.97,19.8 -15.97,21.2" fill="none" stroke="#c2631d" stroke-width="1.06" stroke-linecap="round"/>
</g>
<text x="51.6" y="137.7" font-size="6.6" text-anchor="middle" fill="#333" stroke="#333" stroke-width="0.22" textLength="12.4" lengthAdjust="spacingAndGlyphs">BoyJ</text>
<text x="52" y="144.8" font-size="6.6" text-anchor="middle" fill="#333" stroke="#333" stroke-width="0.22" textLength="27.6" lengthAdjust="spacingAndGlyphs">(CD45.1<tspan dy="-2.5" font-size="4.2">+</tspan><tspan dy="2.5">)</tspan></text>
<g transform="translate(43.2 153.2) scale(0.99)">
<path d="M6.6,95.5 C1,88 -1,72 0,60 C1,45 5,32 13.3,24.4 C20,18 27,14.5 35.5,13 C43,11.5 50,9.5 55.4,8.9 L58.5,6.7 C60,2 64,0 66.5,0.4 C69,0.8 71,2 72,3.5 C73.5,1.5 75.5,0 77.6,0.6 C79.5,1.5 81,6 82,10 C85,15 90,20 93,26.6 C96,31 99.5,36 100,40 C100,43 98,46 95.4,46.5 C93,47 91,47.5 88.7,48.8 C91,50 93.5,55 93,59.9 C92.5,63 90,64.5 86.5,64.3 C83,64 81.5,65 79.8,66.5 C76,70 73,74 70.9,77.6 C68,82 65.5,86 64.3,88.7 C65,91 65.5,92.5 66.5,93.1 L77.6,93.6 C78.5,94 78.5,95.6 77.6,95.6 Z" fill="#111" transform="scale(0.182)"/>
<path d="M1.5,17 C-2.5,16.7 -5.88,16.4 -7.84,16.5 C-10.29,16.7 -12.74,17.1 -14.6,17.9 C-15.58,18.5 -15.97,19.8 -15.97,21.2" fill="none" stroke="#111" stroke-width="1.06" stroke-linecap="round"/>
</g>
<text x="50.8" y="177.2" font-size="6.8" text-anchor="middle" fill="#333" stroke="#333" stroke-width="0.22" textLength="24" lengthAdjust="spacingAndGlyphs">CD45.2<tspan dy="-2.5" font-size="4.2">+</tspan></text>
<text x="65.1" y="119.6" font-size="6.3" text-anchor="start" fill="#333" stroke="#333" stroke-width="0.22" textLength="33.3" lengthAdjust="spacingAndGlyphs">Cell sorting</text>
<line x1="64.5" y1="124.6" x2="100.5" y2="124.6" stroke="#111" stroke-width="1"/>
<path d="M103.2,124.6 L98.4,122.05 L100.05,124.6 L98.4,127.15 Z" fill="#111" stroke="#111" stroke-width="0.4" stroke-linejoin="round"/>
<text x="68.2" y="161" font-size="6.3" text-anchor="start" fill="#333" stroke="#333" stroke-width="0.22" textLength="21.4" lengthAdjust="spacingAndGlyphs">BM cell</text>
<line x1="64.8" y1="165.1" x2="97.9" y2="165.1" stroke="#111" stroke-width="1"/>
<path d="M100.6,165.1 L95.8,162.55 L97.45,165.1 L95.8,167.65 Z" fill="#111" stroke="#111" stroke-width="0.4" stroke-linejoin="round"/>
<circle cx="106" cy="115.75" r="2.45" fill="#1b4582" stroke="#0d2d5e" stroke-width="0.5"/>
<circle cx="112" cy="116.5" r="2.45" fill="#1b4582" stroke="#0d2d5e" stroke-width="0.5"/>
<circle cx="118" cy="119" r="2.45" fill="#1b4582" stroke="#0d2d5e" stroke-width="0.5"/>
<circle cx="107.25" cy="121.25" r="2.45" fill="#1b4582" stroke="#0d2d5e" stroke-width="0.5"/>
<circle cx="113.25" cy="122.75" r="2.45" fill="#1b4582" stroke="#0d2d5e" stroke-width="0.5"/>
<circle cx="119.5" cy="124.5" r="2.45" fill="#1b4582" stroke="#0d2d5e" stroke-width="0.5"/>
<circle cx="109.25" cy="127.25" r="2.45" fill="#1b4582" stroke="#0d2d5e" stroke-width="0.5"/>
<circle cx="115.25" cy="129.25" r="2.45" fill="#1b4582" stroke="#0d2d5e" stroke-width="0.5"/>
<text x="91" y="138.1" font-size="6.5" text-anchor="start" fill="#333" stroke="#333" stroke-width="0.22" textLength="41.8" lengthAdjust="spacingAndGlyphs">1×10<tspan dy="-2.5" font-size="4.2">4</tspan><tspan dy="2.5">LSK cells</tspan></text>
<circle cx="110" cy="155.5" r="3.55" fill="#f6d0bf" stroke="#e6ae98" stroke-width="0.55"/>
<circle cx="116.7" cy="155.5" r="3.55" fill="#f6d0bf" stroke="#e6ae98" stroke-width="0.55"/>
<circle cx="105.9" cy="160.9" r="3.55" fill="#f6d0bf" stroke="#e6ae98" stroke-width="0.55"/>
<circle cx="113.2" cy="160.9" r="3.55" fill="#f6d0bf" stroke="#e6ae98" stroke-width="0.55"/>
<circle cx="119.9" cy="160.9" r="3.55" fill="#f6d0bf" stroke="#e6ae98" stroke-width="0.55"/>
<circle cx="110" cy="166.3" r="3.55" fill="#f6d0bf" stroke="#e6ae98" stroke-width="0.55"/>
<circle cx="116.7" cy="166.3" r="3.55" fill="#f6d0bf" stroke="#e6ae98" stroke-width="0.55"/>
<circle cx="110" cy="155.5" r="1.2" fill="#eab39c" opacity="0.6"/>
<circle cx="116.7" cy="155.5" r="1.2" fill="#eab39c" opacity="0.6"/>
<circle cx="105.9" cy="160.9" r="1.2" fill="#eab39c" opacity="0.6"/>
<circle cx="113.2" cy="160.9" r="1.2" fill="#eab39c" opacity="0.6"/>
<circle cx="119.9" cy="160.9" r="1.2" fill="#eab39c" opacity="0.6"/>
<circle cx="110" cy="166.3" r="1.2" fill="#eab39c" opacity="0.6"/>
<circle cx="116.7" cy="166.3" r="1.2" fill="#eab39c" opacity="0.6"/>
<text x="89.2" y="177.9" font-size="6.5" text-anchor="start" fill="#333" stroke="#333" stroke-width="0.22" textLength="42" lengthAdjust="spacingAndGlyphs">2×10<tspan dy="-2.5" font-size="4.2">5</tspan><tspan dy="2.5"> WBMCs</tspan></text>
<line x1="125.5" y1="123.4" x2="141" y2="123.4" stroke="#1a1a1a" stroke-width="1.05"/>
<line x1="141" y1="122.9" x2="141" y2="161.3" stroke="#1a1a1a" stroke-width="1.05"/>
<line x1="125.5" y1="160.8" x2="141" y2="160.8" stroke="#1a1a1a" stroke-width="1.05"/>
<line x1="141" y1="142.2" x2="169.5" y2="142.2" stroke="#111" stroke-width="1"/>
<path d="M172.2,142.2 L167.4,139.65 L169.05,142.2 L167.4,144.75 Z" fill="#111" stroke="#111" stroke-width="0.4" stroke-linejoin="round"/>
<text x="150" y="138.8" font-size="6.2" text-anchor="start" fill="#333" stroke="#333" stroke-width="0.22" textLength="13" lengthAdjust="spacingAndGlyphs">BMT</text>
<text x="153.8" y="119.3" font-size="6.3" text-anchor="start" fill="#333" stroke="#333" stroke-width="0.22" textLength="44.2" lengthAdjust="spacingAndGlyphs">IgG or &#945;-AREG</text>
<g transform="translate(169.2 121.8) rotate(58.88)"><rect x="0" y="-0.45" width="1.6" height="0.9" fill="#c03048"/><rect x="-0.3" y="-1.6" width="0.7" height="3.2" fill="#c85068"/><rect x="1.6" y="-1.1" width="11.52" height="2.2" fill="#f4b8c0" stroke="#d45c70" stroke-width="0.5"/><rect x="7.17" y="-0.7" width="5.94" height="1.4" fill="#f08c70"/><line x1="13.12" y1="0" x2="18.57" y2="0" stroke="#c04a5a" stroke-width="0.45"/></g>
<path transform="translate(184.2 124.2) scale(1.13 0.84)" d="M2.4,0 L4.6,0 L3.2,3.3 L4.3,3.3 L2.9,7.4 L4.1,7.4 L0.4,14 L1.5,8.9 L0.3,8.9 L1.6,5.1 L0.6,5.1 Z" fill="#111"/>
<g transform="translate(175.9 135.1) scale(0.97)">
<path d="M6.6,95.5 C1,88 -1,72 0,60 C1,45 5,32 13.3,24.4 C20,18 27,14.5 35.5,13 C43,11.5 50,9.5 55.4,8.9 L58.5,6.7 C60,2 64,0 66.5,0.4 C69,0.8 71,2 72,3.5 C73.5,1.5 75.5,0 77.6,0.6 C79.5,1.5 81,6 82,10 C85,15 90,20 93,26.6 C96,31 99.5,36 100,40 C100,43 98,46 95.4,46.5 C93,47 91,47.5 88.7,48.8 C91,50 93.5,55 93,59.9 C92.5,63 90,64.5 86.5,64.3 C83,64 81.5,65 79.8,66.5 C76,70 73,74 70.9,77.6 C68,82 65.5,86 64.3,88.7 C65,91 65.5,92.5 66.5,93.1 L77.6,93.6 C78.5,94 78.5,95.6 77.6,95.6 Z" fill="#111" transform="scale(0.182)"/>
<path d="M1.5,17 C-2.5,16.7 -6.3,16.4 -8.4,16.5 C-11.03,16.7 -13.65,17.1 -15.65,17.9 C-16.7,18.5 -17.12,19.8 -17.12,21.2" fill="none" stroke="#111" stroke-width="1.08" stroke-linecap="round"/>
</g>
<text x="168.3" y="162" font-size="6.8" text-anchor="start" fill="#333" stroke="#333" stroke-width="0.22" textLength="23.8" lengthAdjust="spacingAndGlyphs">CD45.2<tspan dy="-2.5" font-size="4.2">+</tspan></text>
<text x="203.3" y="143.6" font-size="6.3" text-anchor="start" fill="#3a3a3a" stroke="#3a3a3a" stroke-width="0.22" font-style="italic" textLength="51" lengthAdjust="spacingAndGlyphs">LepR-Cre;Brca2<tspan dy="-2.8" font-size="4">+/+</tspan></text>
<text x="203.8" y="152.2" font-size="6.3" text-anchor="start" fill="#3a3a3a" stroke="#3a3a3a" stroke-width="0.22" font-style="italic" textLength="50.2" lengthAdjust="spacingAndGlyphs">LepR-Cre;Brca2<tspan dy="-2.8" font-size="4">fl/fl</tspan></text>
<rect x="44.9" y="238.5" width="9.9" height="52.7" fill="#cc0a2e" stroke="#8e0a22" stroke-width="0.45"/>
<rect x="60.1" y="236.1" width="9.8" height="55.1" fill="#37a93c" stroke="#2a8a30" stroke-width="0.45"/>
<rect x="84.7" y="262" width="9.9" height="29.2" fill="#cc0a2e" stroke="#8e0a22" stroke-width="0.45"/>
<rect x="99.9" y="240.5" width="10" height="50.7" fill="#37a93c" stroke="#2a8a30" stroke-width="0.45"/>
<line x1="49.85" y1="232.4" x2="49.85" y2="244.6" stroke="#151515" stroke-width="0.8"/>
<line x1="47.15" y1="232.4" x2="52.55" y2="232.4" stroke="#151515" stroke-width="0.95"/>
<line x1="47.15" y1="244.6" x2="52.55" y2="244.6" stroke="#151515" stroke-width="0.95"/>
<circle cx="46.3" cy="231.2" r="1.75" fill="#111"/>
<circle cx="53.4" cy="232.4" r="1.75" fill="#111"/>
<circle cx="53.4" cy="237.3" r="1.75" fill="#111"/>
<circle cx="46.3" cy="239.5" r="1.75" fill="#111"/>
<circle cx="53.4" cy="241.3" r="1.75" fill="#111"/>
<circle cx="49.7" cy="246.8" r="1.75" fill="#111"/>
<line x1="65" y1="230.5" x2="65" y2="241.7" stroke="#151515" stroke-width="0.8"/>
<line x1="62.3" y1="230.5" x2="67.7" y2="230.5" stroke="#151515" stroke-width="0.95"/>
<line x1="62.3" y1="241.7" x2="67.7" y2="241.7" stroke="#151515" stroke-width="0.95"/>
<circle cx="61.7" cy="228.7" r="1.5" fill="none" stroke="#1e1e1e" stroke-width="0.85"/>
<circle cx="65.4" cy="231.2" r="1.5" fill="none" stroke="#1e1e1e" stroke-width="0.85"/>
<circle cx="68.5" cy="235.2" r="1.5" fill="none" stroke="#1e1e1e" stroke-width="0.85"/>
<circle cx="61.7" cy="239.2" r="1.5" fill="none" stroke="#1e1e1e" stroke-width="0.85"/>
<circle cx="64.8" cy="238.8" r="1.5" fill="none" stroke="#1e1e1e" stroke-width="0.85"/>
<circle cx="68.5" cy="239.5" r="1.5" fill="none" stroke="#1e1e1e" stroke-width="0.85"/>
<circle cx="65.4" cy="237.3" r="1.5" fill="none" stroke="#1e1e1e" stroke-width="0.85"/>
<line x1="89.65" y1="252.3" x2="89.65" y2="271.7" stroke="#151515" stroke-width="0.8"/>
<line x1="86.95" y1="252.3" x2="92.35" y2="252.3" stroke="#151515" stroke-width="0.95"/>
<line x1="86.95" y1="271.7" x2="92.35" y2="271.7" stroke="#151515" stroke-width="0.95"/>
<circle cx="89.6" cy="248.2" r="1.75" fill="#111"/>
<circle cx="89.6" cy="253.6" r="1.75" fill="#111"/>
<circle cx="89.4" cy="259.3" r="1.75" fill="#111"/>
<circle cx="89.4" cy="264.2" r="1.75" fill="#111"/>
<circle cx="93.4" cy="270.7" r="1.75" fill="#111"/>
<circle cx="86" cy="273.2" r="1.75" fill="#111"/>
<line x1="104.9" y1="236.5" x2="104.9" y2="244.5" stroke="#151515" stroke-width="0.8"/>
<line x1="102.2" y1="236.5" x2="107.6" y2="236.5" stroke="#151515" stroke-width="0.95"/>
<line x1="102.2" y1="244.5" x2="107.6" y2="244.5" stroke="#151515" stroke-width="0.95"/>
<circle cx="100.9" cy="238.3" r="1.5" fill="none" stroke="#1e1e1e" stroke-width="0.85"/>
<circle cx="108.1" cy="237.4" r="1.5" fill="none" stroke="#1e1e1e" stroke-width="0.85"/>
<circle cx="100.9" cy="243.3" r="1.5" fill="none" stroke="#1e1e1e" stroke-width="0.85"/>
<circle cx="108.1" cy="242.4" r="1.5" fill="none" stroke="#1e1e1e" stroke-width="0.85"/>
<circle cx="100.9" cy="246.4" r="1.5" fill="none" stroke="#1e1e1e" stroke-width="0.85"/>
<circle cx="108.1" cy="246.4" r="1.5" fill="none" stroke="#1e1e1e" stroke-width="0.85"/>
<circle cx="104.9" cy="245" r="1.5" fill="none" stroke="#1e1e1e" stroke-width="0.85"/>
<text x="104.9" y="237.7" font-size="6.4" text-anchor="middle" fill="#333" stroke="#333" stroke-width="0.22">**</text>
<line x1="40.2" y1="214.6" x2="40.2" y2="291.7" stroke="#1a1a1a" stroke-width="1.05"/>
<line x1="39.7" y1="291.2" x2="114.5" y2="291.2" stroke="#1a1a1a" stroke-width="1.05"/>
<line x1="36.9" y1="291.2" x2="40.2" y2="291.2" stroke="#1a1a1a" stroke-width="0.9"/>
<text x="34.2" y="293.44" font-size="6.3" text-anchor="end" fill="#3c3c3c" stroke="#3c3c3c" stroke-width="0.22">0</text>
<line x1="36.9" y1="266.44" x2="40.2" y2="266.44" stroke="#1a1a1a" stroke-width="0.9"/>
<text x="34.2" y="268.68" font-size="6.3" text-anchor="end" fill="#3c3c3c" stroke="#3c3c3c" stroke-width="0.22">20</text>
<line x1="36.9" y1="241.68" x2="40.2" y2="241.68" stroke="#1a1a1a" stroke-width="0.9"/>
<text x="34.2" y="243.92" font-size="6.3" text-anchor="end" fill="#3c3c3c" stroke="#3c3c3c" stroke-width="0.22">40</text>
<line x1="36.9" y1="216.92" x2="40.2" y2="216.92" stroke="#1a1a1a" stroke-width="0.9"/>
<text x="34.2" y="219.16" font-size="6.3" text-anchor="end" fill="#3c3c3c" stroke="#3c3c3c" stroke-width="0.22">60</text>
<line x1="57.8" y1="291.2" x2="57.8" y2="294" stroke="#1a1a1a" stroke-width="0.9"/>
<line x1="97.3" y1="291.2" x2="97.3" y2="294" stroke="#1a1a1a" stroke-width="0.9"/>
<text x="22" y="252.7" font-size="8.3" text-anchor="middle" fill="#333" stroke="#333" stroke-width="0.22" transform="rotate(-90 22 252.7)" textLength="69.8" lengthAdjust="spacingAndGlyphs">Donor-derived cells (%)</text>
<circle cx="53.4" cy="220.7" r="1.75" fill="#111"/>
<circle cx="75.2" cy="220.7" r="1.35" fill="none" stroke="#222" stroke-width="1.1"/>
<text x="58.2" y="223" font-size="6.5" text-anchor="start" fill="#d23652" stroke="#d23652" stroke-width="0.05" textLength="10.2" lengthAdjust="spacingAndGlyphs">IgG</text>
<text x="79.6" y="223" font-size="6.5" text-anchor="start" fill="#62bb66" stroke="#62bb66" stroke-width="0.05" textLength="24.6" lengthAdjust="spacingAndGlyphs">&#945;-AREG</text>
<text x="58.5" y="303.1" font-size="6.6" text-anchor="middle" fill="#333" stroke="#333" stroke-width="0.22" font-style="italic" textLength="25.2" lengthAdjust="spacingAndGlyphs">Brca2<tspan dy="-2.64" font-size="4.09">+/+</tspan></text>
<text x="98.3" y="303.1" font-size="6.6" text-anchor="middle" fill="#333" stroke="#333" stroke-width="0.22" font-style="italic" textLength="22" lengthAdjust="spacingAndGlyphs">Brca2<tspan dy="-2.64" font-size="4.09">fl/fl</tspan></text>
<rect x="170.1" y="241.3" width="9.9" height="50.1" fill="#cc0a2e" stroke="#8e0a22" stroke-width="0.45"/>
<rect x="185.3" y="237" width="10.2" height="54.4" fill="#37a93c" stroke="#2a8a30" stroke-width="0.45"/>
<rect x="209.5" y="264" width="10.2" height="27.4" fill="#cc0a2e" stroke="#8e0a22" stroke-width="0.45"/>
<rect x="225" y="246" width="9.7" height="45.4" fill="#37a93c" stroke="#2a8a30" stroke-width="0.45"/>
<line x1="175.05" y1="231.2" x2="175.05" y2="251.4" stroke="#151515" stroke-width="0.8"/>
<line x1="172.35" y1="231.2" x2="177.75" y2="231.2" stroke="#151515" stroke-width="0.95"/>
<line x1="172.35" y1="251.4" x2="177.75" y2="251.4" stroke="#151515" stroke-width="0.95"/>
<circle cx="171.3" cy="230.8" r="1.75" fill="#111"/>
<circle cx="178.4" cy="229.6" r="1.75" fill="#111"/>
<circle cx="171.3" cy="242.2" r="1.75" fill="#111"/>
<circle cx="178.4" cy="242.2" r="1.75" fill="#111"/>
<circle cx="175" cy="247.2" r="1.75" fill="#111"/>
<circle cx="171.3" cy="251.5" r="1.75" fill="#111"/>
<circle cx="178.4" cy="251.5" r="1.75" fill="#111"/>
<line x1="190.4" y1="231.2" x2="190.4" y2="242.8" stroke="#151515" stroke-width="0.8"/>
<line x1="187.7" y1="231.2" x2="193.1" y2="231.2" stroke="#151515" stroke-width="0.95"/>
<line x1="187.7" y1="242.8" x2="193.1" y2="242.8" stroke="#151515" stroke-width="0.95"/>
<circle cx="189.8" cy="227.5" r="1.5" fill="none" stroke="#1e1e1e" stroke-width="0.85"/>
<circle cx="187.3" cy="234.2" r="1.5" fill="none" stroke="#1e1e1e" stroke-width="0.85"/>
<circle cx="191.3" cy="234.5" r="1.5" fill="none" stroke="#1e1e1e" stroke-width="0.85"/>
<circle cx="189.8" cy="237.9" r="1.5" fill="none" stroke="#1e1e1e" stroke-width="0.85"/>
<circle cx="186.1" cy="241.6" r="1.5" fill="none" stroke="#1e1e1e" stroke-width="0.85"/>
<circle cx="193.5" cy="241.9" r="1.5" fill="none" stroke="#1e1e1e" stroke-width="0.85"/>
<circle cx="189.8" cy="240.4" r="1.5" fill="none" stroke="#1e1e1e" stroke-width="0.85"/>
<line x1="214.6" y1="256" x2="214.6" y2="272" stroke="#151515" stroke-width="0.8"/>
<line x1="211.9" y1="256" x2="217.3" y2="256" stroke="#151515" stroke-width="0.95"/>
<line x1="211.9" y1="272" x2="217.3" y2="272" stroke="#151515" stroke-width="0.95"/>
<circle cx="210.9" cy="253.2" r="1.75" fill="#111"/>
<circle cx="218.1" cy="255" r="1.75" fill="#111"/>
<circle cx="214.5" cy="256.8" r="1.75" fill="#111"/>
<circle cx="210.5" cy="272.1" r="1.75" fill="#111"/>
<circle cx="215" cy="272.1" r="1.75" fill="#111"/>
<circle cx="219" cy="272.1" r="1.75" fill="#111"/>
<line x1="229.85" y1="240.6" x2="229.85" y2="251.4" stroke="#151515" stroke-width="0.8"/>
<line x1="227.15" y1="240.6" x2="232.55" y2="240.6" stroke="#151515" stroke-width="0.95"/>
<line x1="227.15" y1="251.4" x2="232.55" y2="251.4" stroke="#151515" stroke-width="0.95"/>
<circle cx="229.4" cy="235.6" r="1.5" fill="none" stroke="#1e1e1e" stroke-width="0.85"/>
<circle cx="225.8" cy="247.3" r="1.5" fill="none" stroke="#1e1e1e" stroke-width="0.85"/>
<circle cx="229.4" cy="247" r="1.5" fill="none" stroke="#1e1e1e" stroke-width="0.85"/>
<circle cx="233" cy="247.3" r="1.5" fill="none" stroke="#1e1e1e" stroke-width="0.85"/>
<circle cx="227.5" cy="248.5" r="1.5" fill="none" stroke="#1e1e1e" stroke-width="0.85"/>
<circle cx="231.5" cy="248.5" r="1.5" fill="none" stroke="#1e1e1e" stroke-width="0.85"/>
<text x="229.85" y="235" font-size="6.4" text-anchor="middle" fill="#333" stroke="#333" stroke-width="0.22">*</text>
<line x1="165" y1="214.8" x2="165" y2="291.9" stroke="#1a1a1a" stroke-width="1.05"/>
<line x1="164.5" y1="291.4" x2="240" y2="291.4" stroke="#1a1a1a" stroke-width="1.05"/>
<line x1="161.7" y1="291.4" x2="165" y2="291.4" stroke="#1a1a1a" stroke-width="0.9"/>
<text x="159" y="293.64" font-size="6.3" text-anchor="end" fill="#3c3c3c" stroke="#3c3c3c" stroke-width="0.22">0</text>
<line x1="161.7" y1="272.88" x2="165" y2="272.88" stroke="#1a1a1a" stroke-width="0.9"/>
<text x="159" y="275.11" font-size="6.3" text-anchor="end" fill="#3c3c3c" stroke="#3c3c3c" stroke-width="0.22">5</text>
<line x1="161.7" y1="254.35" x2="165" y2="254.35" stroke="#1a1a1a" stroke-width="0.9"/>
<text x="159" y="256.59" font-size="6.3" text-anchor="end" fill="#3c3c3c" stroke="#3c3c3c" stroke-width="0.22">10</text>
<line x1="161.7" y1="235.82" x2="165" y2="235.82" stroke="#1a1a1a" stroke-width="0.9"/>
<text x="159" y="238.06" font-size="6.3" text-anchor="end" fill="#3c3c3c" stroke="#3c3c3c" stroke-width="0.22">15</text>
<line x1="161.7" y1="217.3" x2="165" y2="217.3" stroke="#1a1a1a" stroke-width="0.9"/>
<text x="159" y="219.54" font-size="6.3" text-anchor="end" fill="#3c3c3c" stroke="#3c3c3c" stroke-width="0.22">20</text>
<line x1="182.5" y1="291.4" x2="182.5" y2="294.2" stroke="#1a1a1a" stroke-width="0.9"/>
<line x1="221.8" y1="291.4" x2="221.8" y2="294.2" stroke="#1a1a1a" stroke-width="0.9"/>
<text x="148" y="252.85" font-size="8.3" text-anchor="middle" fill="#333" stroke="#333" stroke-width="0.22" transform="rotate(-90 148 252.85)" textLength="63.1" lengthAdjust="spacingAndGlyphs">CD45.2<tspan dy="-2.8" font-size="4.6">+</tspan><tspan dy="2.8"> cells (X10</tspan><tspan dy="-2.8" font-size="4.6">5</tspan><tspan dy="2.8">)</tspan></text>
<circle cx="177.7" cy="220.3" r="1.75" fill="#111"/>
<circle cx="200.1" cy="220.3" r="1.35" fill="none" stroke="#222" stroke-width="1.1"/>
<text x="182.3" y="222.6" font-size="6.5" text-anchor="start" fill="#d23652" stroke="#d23652" stroke-width="0.05" textLength="10.2" lengthAdjust="spacingAndGlyphs">IgG</text>
<text x="205.2" y="222.6" font-size="6.5" text-anchor="start" fill="#62bb66" stroke="#62bb66" stroke-width="0.05" textLength="24.6" lengthAdjust="spacingAndGlyphs">&#945;-AREG</text>
<text x="183.2" y="303.1" font-size="6.6" text-anchor="middle" fill="#333" stroke="#333" stroke-width="0.22" textLength="22.6" lengthAdjust="spacingAndGlyphs">Brca2<tspan dy="-2.64" font-size="4.09">+/+</tspan></text>
<text x="223" y="303.1" font-size="6.6" text-anchor="middle" fill="#333" stroke="#333" stroke-width="0.22" font-style="italic" textLength="22.3" lengthAdjust="spacingAndGlyphs">Brca2<tspan dy="-2.64" font-size="4.09">fl/fl</tspan></text>
<rect x="93.8" y="379.45" width="4.4" height="16.85" fill="#cc0a2e"/>
<rect x="100.3" y="376.92" width="4.3" height="19.38" fill="#37a93c"/>
<rect x="110" y="387.03" width="4.2" height="9.27" fill="#cc0a2e"/>
<rect x="116.2" y="387.88" width="4.3" height="8.43" fill="#37a93c"/>
<rect x="126.2" y="362.6" width="4.3" height="33.7" fill="#cc0a2e"/>
<rect x="126.2" y="345.38" width="4.3" height="11.12" fill="#cc0a2e"/>
<rect x="132.3" y="362.6" width="4.2" height="33.7" fill="#37a93c"/>
<rect x="132.3" y="346.24" width="4.2" height="10.26" fill="#37a93c"/>
<rect x="159.2" y="371.87" width="3.9" height="24.43" fill="#cc0a2e"/>
<rect x="165.1" y="375.24" width="3.8" height="21.06" fill="#37a93c"/>
<rect x="175.1" y="389.9" width="4.1" height="6.4" fill="#cc0a2e"/>
<rect x="181.2" y="389.9" width="4.2" height="6.4" fill="#37a93c"/>
<rect x="191.2" y="362.6" width="4.2" height="33.7" fill="#cc0a2e"/>
<rect x="191.2" y="348.81" width="4.2" height="7.69" fill="#cc0a2e"/>
<rect x="197.2" y="362.6" width="4.3" height="33.7" fill="#37a93c"/>
<rect x="197.2" y="347.1" width="4.3" height="9.4" fill="#37a93c"/>
<circle cx="96.05" cy="382.88" r="1.55" fill="#111"/>
<circle cx="96.12" cy="381.67" r="1.55" fill="#111"/>
<circle cx="95.48" cy="380.27" r="1.55" fill="#111"/>
<circle cx="96.4" cy="380.19" r="1.55" fill="#111"/>
<circle cx="95.68" cy="378.8" r="1.55" fill="#111"/>
<circle cx="95.96" cy="376.68" r="1.55" fill="#111"/>
<circle cx="95.97" cy="375.91" r="1.55" fill="#111"/>
<circle cx="102.03" cy="380.69" r="1.3" fill="none" stroke="#1e1e1e" stroke-width="0.85"/>
<circle cx="102.89" cy="379.35" r="1.3" fill="none" stroke="#1e1e1e" stroke-width="0.85"/>
<circle cx="102.74" cy="378.22" r="1.3" fill="none" stroke="#1e1e1e" stroke-width="0.85"/>
<circle cx="101.93" cy="376.58" r="1.3" fill="none" stroke="#1e1e1e" stroke-width="0.85"/>
<circle cx="102.56" cy="375.05" r="1.3" fill="none" stroke="#1e1e1e" stroke-width="0.85"/>
<circle cx="101.89" cy="374.63" r="1.3" fill="none" stroke="#1e1e1e" stroke-width="0.85"/>
<circle cx="102.42" cy="372.14" r="1.3" fill="none" stroke="#1e1e1e" stroke-width="0.85"/>
<circle cx="112.55" cy="388.47" r="1.55" fill="#111"/>
<circle cx="112.61" cy="387.94" r="1.55" fill="#111"/>
<circle cx="112.46" cy="387.66" r="1.55" fill="#111"/>
<circle cx="112.62" cy="387.08" r="1.55" fill="#111"/>
<circle cx="111.62" cy="386.19" r="1.55" fill="#111"/>
<circle cx="111.76" cy="386.25" r="1.55" fill="#111"/>
<circle cx="112.02" cy="385.04" r="1.55" fill="#111"/>
<circle cx="118.11" cy="389.77" r="1.3" fill="none" stroke="#1e1e1e" stroke-width="0.85"/>
<circle cx="118.21" cy="389.22" r="1.3" fill="none" stroke="#1e1e1e" stroke-width="0.85"/>
<circle cx="118.45" cy="388.7" r="1.3" fill="none" stroke="#1e1e1e" stroke-width="0.85"/>
<circle cx="118.84" cy="387.79" r="1.3" fill="none" stroke="#1e1e1e" stroke-width="0.85"/>
<circle cx="118.86" cy="387.02" r="1.3" fill="none" stroke="#1e1e1e" stroke-width="0.85"/>
<circle cx="118.94" cy="386.17" r="1.3" fill="none" stroke="#1e1e1e" stroke-width="0.85"/>
<circle cx="117.95" cy="385.68" r="1.3" fill="none" stroke="#1e1e1e" stroke-width="0.85"/>
<circle cx="128.91" cy="348.75" r="1.55" fill="#111"/>
<circle cx="128.43" cy="347.29" r="1.55" fill="#111"/>
<circle cx="128" cy="346.31" r="1.55" fill="#111"/>
<circle cx="128.44" cy="344.7" r="1.55" fill="#111"/>
<circle cx="127.83" cy="344.46" r="1.55" fill="#111"/>
<circle cx="128.94" cy="341.92" r="1.55" fill="#111"/>
<circle cx="128.71" cy="342.13" r="1.55" fill="#111"/>
<circle cx="133.98" cy="352.67" r="1.3" fill="none" stroke="#1e1e1e" stroke-width="0.85"/>
<circle cx="134.72" cy="350.98" r="1.3" fill="none" stroke="#1e1e1e" stroke-width="0.85"/>
<circle cx="133.85" cy="347.14" r="1.3" fill="none" stroke="#1e1e1e" stroke-width="0.85"/>
<circle cx="133.85" cy="345.89" r="1.3" fill="none" stroke="#1e1e1e" stroke-width="0.85"/>
<circle cx="134.2" cy="343.52" r="1.3" fill="none" stroke="#1e1e1e" stroke-width="0.85"/>
<circle cx="134.98" cy="340.96" r="1.3" fill="none" stroke="#1e1e1e" stroke-width="0.85"/>
<circle cx="135" cy="340.07" r="1.3" fill="none" stroke="#1e1e1e" stroke-width="0.85"/>
<circle cx="160.64" cy="376.3" r="1.55" fill="#111"/>
<circle cx="160.59" cy="374.36" r="1.55" fill="#111"/>
<circle cx="161.04" cy="373.83" r="1.55" fill="#111"/>
<circle cx="160.74" cy="371.64" r="1.55" fill="#111"/>
<circle cx="161.59" cy="371.44" r="1.55" fill="#111"/>
<circle cx="161.7" cy="369.55" r="1.55" fill="#111"/>
<circle cx="161" cy="367.02" r="1.55" fill="#111"/>
<circle cx="167.02" cy="378.33" r="1.3" fill="none" stroke="#1e1e1e" stroke-width="0.85"/>
<circle cx="167.11" cy="377.04" r="1.3" fill="none" stroke="#1e1e1e" stroke-width="0.85"/>
<circle cx="167.14" cy="376.16" r="1.3" fill="none" stroke="#1e1e1e" stroke-width="0.85"/>
<circle cx="167.01" cy="374.57" r="1.3" fill="none" stroke="#1e1e1e" stroke-width="0.85"/>
<circle cx="167.26" cy="374.33" r="1.3" fill="none" stroke="#1e1e1e" stroke-width="0.85"/>
<circle cx="166.76" cy="373.61" r="1.3" fill="none" stroke="#1e1e1e" stroke-width="0.85"/>
<circle cx="167.03" cy="371.48" r="1.3" fill="none" stroke="#1e1e1e" stroke-width="0.85"/>
<circle cx="176.56" cy="390.88" r="1.55" fill="#111"/>
<circle cx="177.25" cy="390.61" r="1.55" fill="#111"/>
<circle cx="177.29" cy="390.48" r="1.55" fill="#111"/>
<circle cx="176.62" cy="389.83" r="1.55" fill="#111"/>
<circle cx="177.11" cy="389.5" r="1.55" fill="#111"/>
<circle cx="176.97" cy="389.13" r="1.55" fill="#111"/>
<circle cx="177.44" cy="388.78" r="1.55" fill="#111"/>
<circle cx="182.77" cy="392.9" r="1.3" fill="none" stroke="#1e1e1e" stroke-width="0.85"/>
<circle cx="183.86" cy="391.3" r="1.3" fill="none" stroke="#1e1e1e" stroke-width="0.85"/>
<circle cx="183.25" cy="391.01" r="1.3" fill="none" stroke="#1e1e1e" stroke-width="0.85"/>
<circle cx="183.08" cy="389.78" r="1.3" fill="none" stroke="#1e1e1e" stroke-width="0.85"/>
<circle cx="183.08" cy="389.25" r="1.3" fill="none" stroke="#1e1e1e" stroke-width="0.85"/>
<circle cx="183.41" cy="388.44" r="1.3" fill="none" stroke="#1e1e1e" stroke-width="0.85"/>
<circle cx="183.15" cy="387.71" r="1.3" fill="none" stroke="#1e1e1e" stroke-width="0.85"/>
<circle cx="192.73" cy="352.79" r="1.55" fill="#111"/>
<circle cx="193.58" cy="351.72" r="1.55" fill="#111"/>
<circle cx="192.97" cy="350.78" r="1.55" fill="#111"/>
<circle cx="192.99" cy="348.1" r="1.55" fill="#111"/>
<circle cx="193.22" cy="347.99" r="1.55" fill="#111"/>
<circle cx="192.82" cy="345.27" r="1.55" fill="#111"/>
<circle cx="193.1" cy="344.6" r="1.55" fill="#111"/>
<circle cx="199.28" cy="352.65" r="1.3" fill="none" stroke="#1e1e1e" stroke-width="0.85"/>
<circle cx="198.95" cy="350.36" r="1.3" fill="none" stroke="#1e1e1e" stroke-width="0.85"/>
<circle cx="199.53" cy="349.86" r="1.3" fill="none" stroke="#1e1e1e" stroke-width="0.85"/>
<circle cx="199.29" cy="345.81" r="1.3" fill="none" stroke="#1e1e1e" stroke-width="0.85"/>
<circle cx="198.9" cy="345.79" r="1.3" fill="none" stroke="#1e1e1e" stroke-width="0.85"/>
<circle cx="198.98" cy="342.55" r="1.3" fill="none" stroke="#1e1e1e" stroke-width="0.85"/>
<circle cx="199.76" cy="339.4" r="1.3" fill="none" stroke="#1e1e1e" stroke-width="0.85"/>
<line x1="91.5" y1="321" x2="91.5" y2="356.5" stroke="#1a1a1a" stroke-width="1.05"/>
<line x1="91.5" y1="362.6" x2="91.5" y2="396.8" stroke="#1a1a1a" stroke-width="1.05"/>
<line x1="88" y1="356.5" x2="94.5" y2="356.5" stroke="#1a1a1a" stroke-width="1.05"/>
<line x1="88" y1="362.6" x2="94.5" y2="362.6" stroke="#1a1a1a" stroke-width="1.05"/>
<line x1="91" y1="396.3" x2="203" y2="396.3" stroke="#1a1a1a" stroke-width="1.05"/>
<line x1="88.3" y1="322.3" x2="91.5" y2="322.3" stroke="#1a1a1a" stroke-width="0.85"/>
<line x1="88.3" y1="330.85" x2="91.5" y2="330.85" stroke="#1a1a1a" stroke-width="0.85"/>
<line x1="88.3" y1="339.4" x2="91.5" y2="339.4" stroke="#1a1a1a" stroke-width="0.85"/>
<line x1="88.3" y1="347.95" x2="91.5" y2="347.95" stroke="#1a1a1a" stroke-width="0.85"/>
<text x="86.1" y="324.55" font-size="6.3" text-anchor="end" fill="#3c3c3c" stroke="#3c3c3c" stroke-width="0.22">80</text>
<text x="86.1" y="333.1" font-size="6.3" text-anchor="end" fill="#3c3c3c" stroke="#3c3c3c" stroke-width="0.22">70</text>
<text x="86.1" y="341.65" font-size="6.3" text-anchor="end" fill="#3c3c3c" stroke="#3c3c3c" stroke-width="0.22">60</text>
<text x="86.1" y="350.2" font-size="6.3" text-anchor="end" fill="#3c3c3c" stroke="#3c3c3c" stroke-width="0.22">50</text>
<text x="86.1" y="358.75" font-size="6.3" text-anchor="end" fill="#3c3c3c" stroke="#3c3c3c" stroke-width="0.22">40</text>
<line x1="88.3" y1="396.3" x2="91.5" y2="396.3" stroke="#1a1a1a" stroke-width="0.85"/>
<line x1="88.3" y1="387.88" x2="91.5" y2="387.88" stroke="#1a1a1a" stroke-width="0.85"/>
<line x1="88.3" y1="379.45" x2="91.5" y2="379.45" stroke="#1a1a1a" stroke-width="0.85"/>
<line x1="88.3" y1="371.03" x2="91.5" y2="371.03" stroke="#1a1a1a" stroke-width="0.85"/>
<text x="86.1" y="398.55" font-size="6.3" text-anchor="end" fill="#3c3c3c" stroke="#3c3c3c" stroke-width="0.22">0</text>
<text x="86.1" y="390.12" font-size="6.3" text-anchor="end" fill="#3c3c3c" stroke="#3c3c3c" stroke-width="0.22">5</text>
<text x="86.1" y="381.7" font-size="6.3" text-anchor="end" fill="#3c3c3c" stroke="#3c3c3c" stroke-width="0.22">10</text>
<text x="86.1" y="373.28" font-size="6.3" text-anchor="end" fill="#3c3c3c" stroke="#3c3c3c" stroke-width="0.22">15</text>
<text x="86.1" y="364.85" font-size="6.3" text-anchor="end" fill="#3c3c3c" stroke="#3c3c3c" stroke-width="0.22">20</text>
<line x1="98.9" y1="396.3" x2="98.9" y2="399.1" stroke="#1a1a1a" stroke-width="0.85"/>
<line x1="115.1" y1="396.3" x2="115.1" y2="399.1" stroke="#1a1a1a" stroke-width="0.85"/>
<line x1="131.2" y1="396.3" x2="131.2" y2="399.1" stroke="#1a1a1a" stroke-width="0.85"/>
<line x1="147.4" y1="396.3" x2="147.4" y2="399.1" stroke="#1a1a1a" stroke-width="0.85"/>
<line x1="163.8" y1="396.3" x2="163.8" y2="399.1" stroke="#1a1a1a" stroke-width="0.85"/>
<line x1="180" y1="396.3" x2="180" y2="399.1" stroke="#1a1a1a" stroke-width="0.85"/>
<line x1="196.2" y1="396.3" x2="196.2" y2="399.1" stroke="#1a1a1a" stroke-width="0.85"/>
<text x="72.3" y="358.75" font-size="8.3" text-anchor="middle" fill="#333" stroke="#333" stroke-width="0.22" transform="rotate(-90 72.3 358.75)" textLength="25.9" lengthAdjust="spacingAndGlyphs">Cells (%)</text>
<circle cx="113.8" cy="326.2" r="1.75" fill="#111"/>
<circle cx="135.7" cy="326.2" r="1.35" fill="none" stroke="#222" stroke-width="1.1"/>
<text x="119.2" y="328.5" font-size="6.5" text-anchor="start" fill="#d23652" stroke="#d23652" stroke-width="0.05" textLength="10.2" lengthAdjust="spacingAndGlyphs">IgG</text>
<text x="140.2" y="328.5" font-size="6.5" text-anchor="start" fill="#62bb66" stroke="#62bb66" stroke-width="0.05" textLength="24.6" lengthAdjust="spacingAndGlyphs">&#945;-AREG</text>
<text x="99.8" y="405" font-size="6" text-anchor="end" fill="#444" stroke="#444" stroke-width="0.22" transform="rotate(-45 99.8 405)" textLength="33" lengthAdjust="spacingAndGlyphs">Mac1<tspan dy="-2.2" font-size="3.6">+</tspan><tspan dy="2.2">Gr1</tspan><tspan dy="-2.2" font-size="3.6">+</tspan></text>
<text x="116" y="405" font-size="6" text-anchor="end" fill="#444" stroke="#444" stroke-width="0.22" transform="rotate(-45 116 405)" textLength="18.5" lengthAdjust="spacingAndGlyphs">CD3&#949;<tspan dy="-2.2" font-size="3.6">+</tspan></text>
<text x="132.1" y="405" font-size="6" text-anchor="end" fill="#444" stroke="#444" stroke-width="0.22" transform="rotate(-45 132.1 405)" textLength="17.5" lengthAdjust="spacingAndGlyphs">B220<tspan dy="-2.2" font-size="3.6">+</tspan></text>
<text x="165.1" y="405" font-size="6" text-anchor="end" fill="#444" stroke="#444" stroke-width="0.22" transform="rotate(-45 165.1 405)" textLength="33" lengthAdjust="spacingAndGlyphs">Mac1<tspan dy="-2.2" font-size="3.6">+</tspan><tspan dy="2.2">Gr1</tspan><tspan dy="-2.2" font-size="3.6">+</tspan></text>
<text x="181.3" y="405" font-size="6" text-anchor="end" fill="#444" stroke="#444" stroke-width="0.22" transform="rotate(-45 181.3 405)" textLength="18.5" lengthAdjust="spacingAndGlyphs">CD3&#949;<tspan dy="-2.2" font-size="3.6">+</tspan></text>
<text x="197.4" y="405" font-size="6" text-anchor="end" fill="#444" stroke="#444" stroke-width="0.22" transform="rotate(-45 197.4 405)" textLength="17.5" lengthAdjust="spacingAndGlyphs">B220<tspan dy="-2.2" font-size="3.6">+</tspan></text>
<line x1="93.8" y1="425.1" x2="123.1" y2="425.1" stroke="#555" stroke-width="1.1"/>
<line x1="160" y1="425.1" x2="188.9" y2="425.1" stroke="#555" stroke-width="1.1"/>
<text x="109.5" y="432" font-size="6.3" text-anchor="middle" fill="#444" stroke="#444" stroke-width="0.22" font-style="italic" textLength="22" lengthAdjust="spacingAndGlyphs">Brca2<tspan dy="-2.52" font-size="3.91">+/+</tspan></text>
<text x="176.5" y="432" font-size="6.3" text-anchor="middle" fill="#444" stroke="#444" stroke-width="0.22" textLength="22" lengthAdjust="spacingAndGlyphs">Brca2<tspan dy="-2.52" font-size="3.91">fl/fl</tspan></text>
<text x="263.75" y="356.45" font-size="11.9" text-anchor="start" fill="#111" font-weight="bold" stroke="#111" stroke-width="0.7">D</text>
<g transform="translate(310.9 365.7) scale(1.13)">
<path d="M6.6,95.5 C1,88 -1,72 0,60 C1,45 5,32 13.3,24.4 C20,18 27,14.5 35.5,13 C43,11.5 50,9.5 55.4,8.9 L58.5,6.7 C60,2 64,0 66.5,0.4 C69,0.8 71,2 72,3.5 C73.5,1.5 75.5,0 77.6,0.6 C79.5,1.5 81,6 82,10 C85,15 90,20 93,26.6 C96,31 99.5,36 100,40 C100,43 98,46 95.4,46.5 C93,47 91,47.5 88.7,48.8 C91,50 93.5,55 93,59.9 C92.5,63 90,64.5 86.5,64.3 C83,64 81.5,65 79.8,66.5 C76,70 73,74 70.9,77.6 C68,82 65.5,86 64.3,88.7 C65,91 65.5,92.5 66.5,93.1 L77.6,93.6 C78.5,94 78.5,95.6 77.6,95.6 Z" fill="#111" transform="scale(0.182)"/>
<path d="M1.5,17 C-2.5,16.7 -5.58,16.4 -7.44,16.5 C-9.77,16.7 -12.09,17.1 -13.86,17.9 C-14.79,18.5 -15.16,19.8 -15.16,21.2" fill="none" stroke="#111" stroke-width="0.93" stroke-linecap="round"/>
</g>
<text x="281.6" y="398.1" font-size="6.6" text-anchor="start" fill="#3a3a3a" stroke="#3a3a3a" stroke-width="0.22" textLength="73.8" lengthAdjust="spacingAndGlyphs">Areg<tspan dy="-2.5" font-size="3.8">+/+</tspan><tspan dy="2.5"> LepR-Cre;Brca2</tspan><tspan dy="-2.5" font-size="3.8">fl/fl</tspan></text>
<text x="283.4" y="405.3" font-size="6.6" text-anchor="start" fill="#3a3a3a" stroke="#3a3a3a" stroke-width="0.22" textLength="72" lengthAdjust="spacingAndGlyphs">Areg<tspan dy="-2.5" font-size="3.8">&#8211;/&#8211;</tspan><tspan dy="2.5"> LepR-Cre;Brca2</tspan><tspan dy="-2.5" font-size="3.8">fl/fl</tspan></text>
<text x="334.3" y="378.3" font-size="6.3" text-anchor="start" fill="#333" stroke="#333" stroke-width="0.22" textLength="33.3" lengthAdjust="spacingAndGlyphs">Cell sorting</text>
<line x1="333.5" y1="382.7" x2="373.3" y2="382.7" stroke="#111" stroke-width="1"/>
<path d="M376,382.7 L371.2,380.15 L372.85,382.7 L371.2,385.25 Z" fill="#111" stroke="#111" stroke-width="0.4" stroke-linejoin="round"/>
<path d="M387.19,370.71 L388.31,368.5 L389.2,364.6 L389.46,368.6 L390.21,370.96 L390.43,371.56 L391.01,371.84 L390.85,373.07 L392.8,373.4 L390.84,373.64 L390.94,374.87 L388.8,375.88 L386.49,375.39 L385.06,374.66 L382,375 L384.84,373.8 L385.72,372.46 L386.51,371.63 Z" fill="#ef6a22" stroke="#ef6a22" stroke-width="0.3" stroke-linejoin="round"/>
<circle cx="388.5" cy="373.3" r="1.6" fill="#d9541a"/>
<path d="M397.56,370.03 L398.65,367.81 L399.5,363.9 L399.8,367.89 L400.58,370.24 L400.99,371.05 L401.65,371.66 L402.88,373.01 L406,374.2 L402.67,373.94 L400.98,374.62 L399.32,375.17 L397.58,375.18 L395.92,374.95 L393,376.2 L395.44,374.18 L396,372.59 L396.68,371.25 Z" fill="#ef6a22" stroke="#ef6a22" stroke-width="0.3" stroke-linejoin="round"/>
<circle cx="398.9" cy="372.6" r="1.6" fill="#d9541a"/>
<path d="M387.32,379.94 L388.6,379.82 L389.9,377.6 L389.29,380.1 L390.13,381.08 L390.24,381.89 L390.69,382.58 L390.41,383.76 L392.3,385.1 L390.11,384.35 L389.31,385.27 L387.34,385.36 L385.53,384.6 L384.25,383.67 L381.2,383.6 L384.14,382.8 L385.16,381.59 L386.22,380.74 Z" fill="#ef6a22" stroke="#ef6a22" stroke-width="0.3" stroke-linejoin="round"/>
<circle cx="387.8" cy="382.8" r="1.6" fill="#d9541a"/>
<path d="M398.74,383.3 L398.28,381.93 L395.8,380.5 L398.58,381.16 L399.86,380.48 L400.63,380.39 L401.26,379.92 L402.81,379.05 L404.6,376.3 L403.67,379.45 L404.01,381.19 L404.18,382.48 L404.34,383.76 L404.86,385.95 L406.8,389.2 L404.02,386.64 L401.98,385.67 L400.06,384.9 Z" fill="#ef6a22" stroke="#ef6a22" stroke-width="0.3" stroke-linejoin="round"/>
<circle cx="401.6" cy="382.8" r="1.6" fill="#d9541a"/>
<path d="M386.52,389.1 L387.48,388.36 L386.5,386.5 L387.97,388 L388.97,387.31 L390.27,387.83 L391.52,388.46 L392.66,389.45 L395.6,389.6 L392.73,390.29 L391.8,391.48 L389.85,392.72 L387.55,392.58 L386.15,392.01 L383.3,392.8 L385.81,391.23 L386.33,389.81 L386.69,389.52 Z" fill="#ef6a22" stroke="#ef6a22" stroke-width="0.3" stroke-linejoin="round"/>
<circle cx="389.2" cy="390.2" r="1.6" fill="#d9541a"/>
<text x="372.3" y="402.8" font-size="6.2" text-anchor="start" fill="#333" stroke="#333" stroke-width="0.22" textLength="51.2" lengthAdjust="spacingAndGlyphs">CD45<tspan dy="-2.5" font-size="3.8">&#8211;</tspan><tspan dy="2.5">LepR</tspan><tspan dy="-2.5" font-size="3.8">+</tspan><tspan dy="2.5"> cells</tspan></text>
<text x="414.4" y="383" font-size="6.5" text-anchor="middle" fill="#444" stroke="#444" stroke-width="0.22">+</text>
<circle cx="423.3" cy="373.1" r="2.5" fill="#e3495d" stroke="#c9344a" stroke-width="0.45"/>
<circle cx="429.7" cy="373.9" r="2.5" fill="#e3495d" stroke="#c9344a" stroke-width="0.45"/>
<circle cx="436.7" cy="376.3" r="2.5" fill="#e3495d" stroke="#c9344a" stroke-width="0.45"/>
<circle cx="424.6" cy="379" r="2.5" fill="#e3495d" stroke="#c9344a" stroke-width="0.45"/>
<circle cx="431.3" cy="380.9" r="2.5" fill="#e3495d" stroke="#c9344a" stroke-width="0.45"/>
<circle cx="437.8" cy="382.5" r="2.5" fill="#e3495d" stroke="#c9344a" stroke-width="0.45"/>
<circle cx="426.8" cy="385.5" r="2.5" fill="#e3495d" stroke="#c9344a" stroke-width="0.45"/>
<circle cx="433.2" cy="387.9" r="2.5" fill="#e3495d" stroke="#c9344a" stroke-width="0.45"/>
<text x="409.5" y="360.7" font-size="6.3" text-anchor="start" fill="#333" stroke="#333" stroke-width="0.22" textLength="43.4" lengthAdjust="spacingAndGlyphs">WT SLAM cells</text>
<text x="416.8" y="367.6" font-size="6.3" text-anchor="start" fill="#333" stroke="#333" stroke-width="0.22" textLength="28.8" lengthAdjust="spacingAndGlyphs">(CD45.2<tspan dy="-2.4" font-size="4">+</tspan><tspan dy="2.4">)</tspan></text>
<line x1="443.3" y1="379.6" x2="460.5" y2="379.6" stroke="#1a1a1a" stroke-width="1.05"/>
<line x1="460.5" y1="361.4" x2="460.5" y2="395.9" stroke="#1a1a1a" stroke-width="1.05"/>
<line x1="460.5" y1="361.9" x2="470.5" y2="361.9" stroke="#111" stroke-width="1"/>
<path d="M473.2,361.9 L468.4,359.35 L470.05,361.9 L468.4,364.45 Z" fill="#111" stroke="#111" stroke-width="0.4" stroke-linejoin="round"/>
<line x1="460.5" y1="395.4" x2="482.3" y2="395.4" stroke="#111" stroke-width="1"/>
<path d="M485,395.4 L480.2,392.85 L481.85,395.4 L480.2,397.95 Z" fill="#111" stroke="#111" stroke-width="0.4" stroke-linejoin="round"/>
<text x="479.6" y="364.2" font-size="6.3" text-anchor="start" fill="#333" stroke="#333" stroke-width="0.22" textLength="12.6" lengthAdjust="spacingAndGlyphs">CFU</text>
<text x="464.6" y="390.7" font-size="6.3" text-anchor="start" fill="#333" stroke="#333" stroke-width="0.22" textLength="13.8" lengthAdjust="spacingAndGlyphs">BMT</text>
<path transform="translate(496.9 370.2) scale(1.41 0.94)" d="M2.4,0 L4.6,0 L3.2,3.3 L4.3,3.3 L2.9,7.4 L4.1,7.4 L0.4,14 L1.5,8.9 L0.3,8.9 L1.6,5.1 L0.6,5.1 Z" fill="#111"/>
<g transform="translate(488.2 382.6) scale(1.01)">
<path d="M6.6,95.5 C1,88 -1,72 0,60 C1,45 5,32 13.3,24.4 C20,18 27,14.5 35.5,13 C43,11.5 50,9.5 55.4,8.9 L58.5,6.7 C60,2 64,0 66.5,0.4 C69,0.8 71,2 72,3.5 C73.5,1.5 75.5,0 77.6,0.6 C79.5,1.5 81,6 82,10 C85,15 90,20 93,26.6 C96,31 99.5,36 100,40 C100,43 98,46 95.4,46.5 C93,47 91,47.5 88.7,48.8 C91,50 93.5,55 93,59.9 C92.5,63 90,64.5 86.5,64.3 C83,64 81.5,65 79.8,66.5 C76,70 73,74 70.9,77.6 C68,82 65.5,86 64.3,88.7 C65,91 65.5,92.5 66.5,93.1 L77.6,93.6 C78.5,94 78.5,95.6 77.6,95.6 Z" fill="#b65e1a" transform="scale(0.182)"/>
<path d="M1.5,17 C-2.5,16.7 -5.58,16.4 -7.44,16.5 C-9.77,16.7 -12.09,17.1 -13.86,17.9 C-14.79,18.5 -15.16,19.8 -15.16,21.2" fill="none" stroke="#b65e1a" stroke-width="1.04" stroke-linecap="round"/>
</g>
<text x="501.5" y="407.2" font-size="6.3" text-anchor="middle" fill="#333" stroke="#333" stroke-width="0.22">BoyJ</text>
<text x="484.2" y="414.7" font-size="6.3" text-anchor="start" fill="#333" stroke="#333" stroke-width="0.22" textLength="28.6" lengthAdjust="spacingAndGlyphs">(CD45.1<tspan dy="-2.4" font-size="4">+</tspan><tspan dy="2.4">)</tspan></text>
<text x="8.55" y="461.85" font-size="11.9" text-anchor="start" fill="#111" font-weight="bold" stroke="#111" stroke-width="0.7">E</text>
<rect x="54.3" y="505.1" width="14" height="40" fill="#cc0a2e" stroke="#8e0a22" stroke-width="0.45"/>
<rect x="76" y="512.3" width="13.9" height="32.8" fill="#37a93c" stroke="#2a8a30" stroke-width="0.45"/>
<line x1="61.3" y1="501" x2="61.3" y2="509.2" stroke="#151515" stroke-width="0.8"/>
<line x1="58.6" y1="501" x2="64" y2="501" stroke="#151515" stroke-width="0.95"/>
<line x1="58.6" y1="509.2" x2="64" y2="509.2" stroke="#151515" stroke-width="0.95"/>
<circle cx="55.8" cy="501.3" r="1.75" fill="#111"/>
<circle cx="66.8" cy="498.8" r="1.75" fill="#111"/>
<circle cx="66.8" cy="502.2" r="1.75" fill="#111"/>
<circle cx="55.8" cy="506.1" r="1.75" fill="#111"/>
<circle cx="55.8" cy="509.4" r="1.75" fill="#111"/>
<circle cx="61.5" cy="508" r="1.75" fill="#111"/>
<circle cx="66.8" cy="508" r="1.75" fill="#111"/>
<line x1="82.95" y1="505.5" x2="82.95" y2="519.1" stroke="#151515" stroke-width="0.8"/>
<line x1="80.25" y1="505.5" x2="85.65" y2="505.5" stroke="#151515" stroke-width="0.95"/>
<line x1="80.25" y1="519.1" x2="85.65" y2="519.1" stroke="#151515" stroke-width="0.95"/>
<circle cx="76.4" cy="507.5" r="1.5" fill="none" stroke="#1e1e1e" stroke-width="0.85"/>
<circle cx="82.7" cy="507" r="1.5" fill="none" stroke="#1e1e1e" stroke-width="0.85"/>
<circle cx="82.7" cy="509.4" r="1.5" fill="none" stroke="#1e1e1e" stroke-width="0.85"/>
<circle cx="82.7" cy="514.7" r="1.5" fill="none" stroke="#1e1e1e" stroke-width="0.85"/>
<circle cx="88.5" cy="514.7" r="1.5" fill="none" stroke="#1e1e1e" stroke-width="0.85"/>
<circle cx="88.5" cy="517.6" r="1.5" fill="none" stroke="#1e1e1e" stroke-width="0.85"/>
<circle cx="76.9" cy="518.1" r="1.5" fill="none" stroke="#1e1e1e" stroke-width="0.85"/>
<text x="82.95" y="505.8" font-size="6.4" text-anchor="middle" fill="#333" stroke="#333" stroke-width="0.22">*</text>
<line x1="47.3" y1="467.8" x2="47.3" y2="545.6" stroke="#1a1a1a" stroke-width="1.05"/>
<line x1="46.8" y1="545.1" x2="96.2" y2="545.1" stroke="#1a1a1a" stroke-width="1.05"/>
<line x1="44" y1="545.1" x2="47.3" y2="545.1" stroke="#1a1a1a" stroke-width="0.9"/>
<text x="41.3" y="547.34" font-size="6.3" text-anchor="end" fill="#3c3c3c" stroke="#3c3c3c" stroke-width="0.22">0</text>
<line x1="44" y1="520.24" x2="47.3" y2="520.24" stroke="#1a1a1a" stroke-width="0.9"/>
<text x="41.3" y="522.47" font-size="6.3" text-anchor="end" fill="#3c3c3c" stroke="#3c3c3c" stroke-width="0.22">50</text>
<line x1="44" y1="495.37" x2="47.3" y2="495.37" stroke="#1a1a1a" stroke-width="0.9"/>
<text x="41.3" y="497.61" font-size="6.3" text-anchor="end" fill="#3c3c3c" stroke="#3c3c3c" stroke-width="0.22">100</text>
<line x1="44" y1="470.5" x2="47.3" y2="470.5" stroke="#1a1a1a" stroke-width="0.9"/>
<text x="41.3" y="472.74" font-size="6.3" text-anchor="end" fill="#3c3c3c" stroke="#3c3c3c" stroke-width="0.22">150</text>
<line x1="61.2" y1="545.1" x2="61.2" y2="547.9" stroke="#1a1a1a" stroke-width="0.9"/>
<line x1="83.1" y1="545.1" x2="83.1" y2="547.9" stroke="#1a1a1a" stroke-width="0.9"/>
<text x="25.5" y="507.65" font-size="8.3" text-anchor="middle" fill="#333" stroke="#333" stroke-width="0.22" transform="rotate(-90 25.5 507.65)" textLength="64.3" lengthAdjust="spacingAndGlyphs">CFCs/100 progenies</text>
<text x="61.5" y="557.5" font-size="6.6" text-anchor="middle" fill="#333" stroke="#333" stroke-width="0.22" font-style="italic" textLength="21" lengthAdjust="spacingAndGlyphs">Areg<tspan dy="-2.64" font-size="4.09">+/+</tspan></text>
<text x="83.3" y="557.5" font-size="6.6" text-anchor="middle" fill="#333" stroke="#333" stroke-width="0.22" font-style="italic" textLength="18.3" lengthAdjust="spacingAndGlyphs">Areg<tspan dy="-2.64" font-size="4.09">&#8211;/&#8211;</tspan></text>
<text x="132.95" y="461.45" font-size="11.9" text-anchor="start" fill="#111" font-weight="bold" stroke="#111" stroke-width="0.7">F</text>
<polyline points="168.4,510.6 198.96,517.06 229.52,504.63 260.08,511.08" fill="none" stroke="#4f9f52" stroke-width="1.0" stroke-dasharray="2.6,1.6"/>
<polyline points="168.4,512.04 198.96,526.5 229.52,519.21 260.08,528.17" fill="none" stroke="#c23458" stroke-width="1.05"/>
<line x1="168.4" y1="517.18" x2="168.4" y2="504.03" stroke="#2f7f3a" stroke-width="0.85"/>
<line x1="166.3" y1="504.03" x2="170.5" y2="504.03" stroke="#2f7f3a" stroke-width="0.85"/>
<line x1="166.3" y1="517.18" x2="170.5" y2="517.18" stroke="#2f7f3a" stroke-width="0.85"/>
<circle cx="168.4" cy="510.6" r="1.6" fill="#2f8a3a" stroke="#1f6a2a" stroke-width="0.4"/>
<line x1="198.96" y1="521.72" x2="198.96" y2="512.4" stroke="#2f7f3a" stroke-width="0.85"/>
<line x1="196.86" y1="512.4" x2="201.06" y2="512.4" stroke="#2f7f3a" stroke-width="0.85"/>
<line x1="196.86" y1="521.72" x2="201.06" y2="521.72" stroke="#2f7f3a" stroke-width="0.85"/>
<circle cx="198.96" cy="517.06" r="1.6" fill="#2f8a3a" stroke="#1f6a2a" stroke-width="0.4"/>
<line x1="229.52" y1="508.57" x2="229.52" y2="500.68" stroke="#2f7f3a" stroke-width="0.85"/>
<line x1="227.42" y1="500.68" x2="231.62" y2="500.68" stroke="#2f7f3a" stroke-width="0.85"/>
<line x1="227.42" y1="508.57" x2="231.62" y2="508.57" stroke="#2f7f3a" stroke-width="0.85"/>
<circle cx="229.52" cy="504.63" r="1.6" fill="#2f8a3a" stroke="#1f6a2a" stroke-width="0.4"/>
<line x1="260.08" y1="517.06" x2="260.08" y2="505.11" stroke="#2f7f3a" stroke-width="0.85"/>
<line x1="257.98" y1="505.11" x2="262.18" y2="505.11" stroke="#2f7f3a" stroke-width="0.85"/>
<line x1="257.98" y1="517.06" x2="262.18" y2="517.06" stroke="#2f7f3a" stroke-width="0.85"/>
<circle cx="260.08" cy="511.08" r="1.6" fill="#2f8a3a" stroke="#1f6a2a" stroke-width="0.4"/>
<line x1="168.4" y1="521.6" x2="168.4" y2="502.48" stroke="#a8304e" stroke-width="0.85"/>
<line x1="166.3" y1="502.48" x2="170.5" y2="502.48" stroke="#a8304e" stroke-width="0.85"/>
<line x1="166.3" y1="521.6" x2="170.5" y2="521.6" stroke="#a8304e" stroke-width="0.85"/>
<circle cx="168.4" cy="512.04" r="1.7" fill="#111"/>
<line x1="198.96" y1="530.32" x2="198.96" y2="522.67" stroke="#a8304e" stroke-width="0.85"/>
<line x1="196.86" y1="522.67" x2="201.06" y2="522.67" stroke="#a8304e" stroke-width="0.85"/>
<line x1="196.86" y1="530.32" x2="201.06" y2="530.32" stroke="#a8304e" stroke-width="0.85"/>
<circle cx="198.96" cy="526.5" r="1.7" fill="#111"/>
<line x1="229.52" y1="523.99" x2="229.52" y2="514.43" stroke="#a8304e" stroke-width="0.85"/>
<line x1="227.42" y1="514.43" x2="231.62" y2="514.43" stroke="#a8304e" stroke-width="0.85"/>
<line x1="227.42" y1="523.99" x2="231.62" y2="523.99" stroke="#a8304e" stroke-width="0.85"/>
<circle cx="229.52" cy="519.21" r="1.7" fill="#111"/>
<line x1="260.08" y1="532.95" x2="260.08" y2="523.39" stroke="#a8304e" stroke-width="0.85"/>
<line x1="257.98" y1="523.39" x2="262.18" y2="523.39" stroke="#a8304e" stroke-width="0.85"/>
<line x1="257.98" y1="532.95" x2="262.18" y2="532.95" stroke="#a8304e" stroke-width="0.85"/>
<circle cx="260.08" cy="528.17" r="1.7" fill="#111"/>
<text x="229.52" y="532.6" font-size="6.4" text-anchor="middle" fill="#333" stroke="#333" stroke-width="0.22">**</text>
<text x="260.08" y="540.6" font-size="6.4" text-anchor="middle" fill="#333" stroke="#333" stroke-width="0.22">**</text>
<line x1="168.4" y1="467.5" x2="168.4" y2="545.4" stroke="#1a1a1a" stroke-width="1.05"/>
<line x1="167.9" y1="544.9" x2="275.5" y2="544.9" stroke="#1a1a1a" stroke-width="1.05"/>
<line x1="165.2" y1="544.9" x2="168.4" y2="544.9" stroke="#1a1a1a" stroke-width="0.85"/>
<text x="162.4" y="547.15" font-size="6.3" text-anchor="end" fill="#3c3c3c" stroke="#3c3c3c" stroke-width="0.22">0</text>
<line x1="165.2" y1="521" x2="168.4" y2="521" stroke="#1a1a1a" stroke-width="0.85"/>
<text x="162.4" y="523.25" font-size="6.3" text-anchor="end" fill="#3c3c3c" stroke="#3c3c3c" stroke-width="0.22">20</text>
<line x1="165.2" y1="497.1" x2="168.4" y2="497.1" stroke="#1a1a1a" stroke-width="0.85"/>
<text x="162.4" y="499.35" font-size="6.3" text-anchor="end" fill="#3c3c3c" stroke="#3c3c3c" stroke-width="0.22">40</text>
<line x1="165.2" y1="473.2" x2="168.4" y2="473.2" stroke="#1a1a1a" stroke-width="0.85"/>
<text x="162.4" y="475.45" font-size="6.3" text-anchor="end" fill="#3c3c3c" stroke="#3c3c3c" stroke-width="0.22">60</text>
<line x1="168.4" y1="544.9" x2="168.4" y2="547.7" stroke="#1a1a1a" stroke-width="0.85"/>
<text x="168.4" y="556.6" font-size="6.3" text-anchor="middle" fill="#3c3c3c" stroke="#3c3c3c" stroke-width="0.22">4</text>
<line x1="198.96" y1="544.9" x2="198.96" y2="547.7" stroke="#1a1a1a" stroke-width="0.85"/>
<text x="198.96" y="556.6" font-size="6.3" text-anchor="middle" fill="#3c3c3c" stroke="#3c3c3c" stroke-width="0.22">8</text>
<line x1="229.52" y1="544.9" x2="229.52" y2="547.7" stroke="#1a1a1a" stroke-width="0.85"/>
<text x="229.52" y="556.6" font-size="6.3" text-anchor="middle" fill="#3c3c3c" stroke="#3c3c3c" stroke-width="0.22">12</text>
<line x1="260.08" y1="544.9" x2="260.08" y2="547.7" stroke="#1a1a1a" stroke-width="0.85"/>
<text x="260.08" y="556.6" font-size="6.3" text-anchor="middle" fill="#3c3c3c" stroke="#3c3c3c" stroke-width="0.22">16</text>
<text x="198.1" y="568.6" font-size="7.9" text-anchor="start" fill="#333" stroke="#333" stroke-width="0.22" textLength="49" lengthAdjust="spacingAndGlyphs">Weeks post BMT</text>
<text x="150.3" y="507" font-size="8.3" text-anchor="middle" fill="#333" stroke="#333" stroke-width="0.22" transform="rotate(-90 150.3 507)" textLength="66.8" lengthAdjust="spacingAndGlyphs">% Donor-derived cells</text>
<line x1="170.3" y1="473.5" x2="180.4" y2="473.5" stroke="#333" stroke-width="1"/>
<circle cx="175.5" cy="473.5" r="1.6" fill="#111"/>
<text x="186.2" y="476.1" font-size="6.3" text-anchor="start" fill="#d23652" stroke="#d23652" stroke-width="0.22" font-style="italic" textLength="21" lengthAdjust="spacingAndGlyphs">Areg<tspan dy="-2.52" font-size="3.91">+/+</tspan></text>
<line x1="170.8" y1="483.8" x2="180.4" y2="483.8" stroke="#6aaa6a" stroke-width="1" stroke-dasharray="1.8,1.2"/>
<circle cx="175.5" cy="483.8" r="1.6" fill="#4a9a4e"/>
<text x="185.7" y="485.9" font-size="6.3" text-anchor="start" fill="#62bb66" stroke="#62bb66" stroke-width="0.22" font-style="italic" textLength="18.5" lengthAdjust="spacingAndGlyphs">Areg<tspan dy="-2.52" font-size="3.91">&#8211;/&#8211;</tspan></text>
<text x="311.15" y="461.05" font-size="11.9" text-anchor="start" fill="#111" font-weight="bold" stroke="#111" stroke-width="0.7">G</text>
<rect x="356" y="510.2" width="13.3" height="34.9" fill="#cc0a2e" stroke="#8e0a22" stroke-width="0.45"/>
<rect x="377.4" y="492" width="13.5" height="53.1" fill="#37a93c" stroke="#2a8a30" stroke-width="0.45"/>
<line x1="362.65" y1="502.7" x2="362.65" y2="517.7" stroke="#151515" stroke-width="0.8"/>
<line x1="359.95" y1="502.7" x2="365.35" y2="502.7" stroke="#151515" stroke-width="0.95"/>
<line x1="359.95" y1="517.7" x2="365.35" y2="517.7" stroke="#151515" stroke-width="0.95"/>
<circle cx="362.4" cy="498.1" r="1.75" fill="#111"/>
<circle cx="362.4" cy="505.9" r="1.75" fill="#111"/>
<circle cx="362.4" cy="509.8" r="1.75" fill="#111"/>
<circle cx="359.3" cy="512.8" r="1.75" fill="#111"/>
<circle cx="365.4" cy="513.6" r="1.75" fill="#111"/>
<circle cx="362.4" cy="516.7" r="1.75" fill="#111"/>
<line x1="384.15" y1="481.7" x2="384.15" y2="502.3" stroke="#151515" stroke-width="0.8"/>
<line x1="381.45" y1="481.7" x2="386.85" y2="481.7" stroke="#151515" stroke-width="0.95"/>
<line x1="381.45" y1="502.3" x2="386.85" y2="502.3" stroke="#151515" stroke-width="0.95"/>
<circle cx="381" cy="482.1" r="1.5" fill="none" stroke="#1e1e1e" stroke-width="0.85"/>
<circle cx="386.6" cy="480.8" r="1.5" fill="none" stroke="#1e1e1e" stroke-width="0.85"/>
<circle cx="384" cy="488.2" r="1.5" fill="none" stroke="#1e1e1e" stroke-width="0.85"/>
<circle cx="384" cy="492" r="1.5" fill="none" stroke="#1e1e1e" stroke-width="0.85"/>
<circle cx="384" cy="495.9" r="1.5" fill="none" stroke="#1e1e1e" stroke-width="0.85"/>
<circle cx="384" cy="511" r="1.5" fill="none" stroke="#1e1e1e" stroke-width="0.85"/>
<text x="384.15" y="480.8" font-size="6.4" text-anchor="middle" fill="#333" stroke="#333" stroke-width="0.22">*</text>
<line x1="348.65" y1="467.8" x2="348.65" y2="545.6" stroke="#1a1a1a" stroke-width="1.05"/>
<line x1="348.15" y1="545.1" x2="398" y2="545.1" stroke="#1a1a1a" stroke-width="1.05"/>
<line x1="345.35" y1="545.1" x2="348.65" y2="545.1" stroke="#1a1a1a" stroke-width="0.9"/>
<text x="342.65" y="547.34" font-size="6.3" text-anchor="end" fill="#3c3c3c" stroke="#3c3c3c" stroke-width="0.22">0</text>
<line x1="345.35" y1="526.43" x2="348.65" y2="526.43" stroke="#1a1a1a" stroke-width="0.9"/>
<text x="342.65" y="528.66" font-size="6.3" text-anchor="end" fill="#3c3c3c" stroke="#3c3c3c" stroke-width="0.22">10</text>
<line x1="345.35" y1="507.75" x2="348.65" y2="507.75" stroke="#1a1a1a" stroke-width="0.9"/>
<text x="342.65" y="509.99" font-size="6.3" text-anchor="end" fill="#3c3c3c" stroke="#3c3c3c" stroke-width="0.22">20</text>
<line x1="345.35" y1="489.08" x2="348.65" y2="489.08" stroke="#1a1a1a" stroke-width="0.9"/>
<text x="342.65" y="491.31" font-size="6.3" text-anchor="end" fill="#3c3c3c" stroke="#3c3c3c" stroke-width="0.22">30</text>
<line x1="345.35" y1="470.4" x2="348.65" y2="470.4" stroke="#1a1a1a" stroke-width="0.9"/>
<text x="342.65" y="472.64" font-size="6.3" text-anchor="end" fill="#3c3c3c" stroke="#3c3c3c" stroke-width="0.22">40</text>
<line x1="362.6" y1="545.1" x2="362.6" y2="547.9" stroke="#1a1a1a" stroke-width="0.9"/>
<line x1="384.1" y1="545.1" x2="384.1" y2="547.9" stroke="#1a1a1a" stroke-width="0.9"/>
<text x="330.5" y="505.85" font-size="8.3" text-anchor="middle" fill="#333" stroke="#333" stroke-width="0.22" transform="rotate(-90 330.5 505.85)" textLength="70.1" lengthAdjust="spacingAndGlyphs">Donor-derived cells (%)</text>
<text x="362.9" y="557.5" font-size="6.6" text-anchor="middle" fill="#333" stroke="#333" stroke-width="0.22" font-style="italic" textLength="21" lengthAdjust="spacingAndGlyphs">Areg<tspan dy="-2.64" font-size="4.09">+/+</tspan></text>
<text x="384.4" y="557.5" font-size="6.6" text-anchor="middle" fill="#333" stroke="#333" stroke-width="0.22" font-style="italic" textLength="18.3" lengthAdjust="spacingAndGlyphs">Areg<tspan dy="-2.64" font-size="4.09">&#8211;/&#8211;</tspan></text>
<rect x="469.8" y="515.9" width="13.3" height="29.1" fill="#cc0a2e" stroke="#8e0a22" stroke-width="0.45"/>
<rect x="491.2" y="503.8" width="13.8" height="41.2" fill="#37a93c" stroke="#2a8a30" stroke-width="0.45"/>
<line x1="476.45" y1="510.1" x2="476.45" y2="521.7" stroke="#151515" stroke-width="0.8"/>
<line x1="473.75" y1="510.1" x2="479.15" y2="510.1" stroke="#151515" stroke-width="0.95"/>
<line x1="473.75" y1="521.7" x2="479.15" y2="521.7" stroke="#151515" stroke-width="0.95"/>
<circle cx="476.4" cy="504.2" r="1.75" fill="#111"/>
<circle cx="470.8" cy="513.7" r="1.75" fill="#111"/>
<circle cx="476.4" cy="516.7" r="1.75" fill="#111"/>
<circle cx="470.8" cy="520.6" r="1.75" fill="#111"/>
<circle cx="476.4" cy="520.2" r="1.75" fill="#111"/>
<circle cx="482" cy="520.2" r="1.75" fill="#111"/>
<line x1="498.1" y1="493.8" x2="498.1" y2="513.8" stroke="#151515" stroke-width="0.8"/>
<line x1="495.4" y1="493.8" x2="500.8" y2="493.8" stroke="#151515" stroke-width="0.95"/>
<line x1="495.4" y1="513.8" x2="500.8" y2="513.8" stroke="#151515" stroke-width="0.95"/>
<circle cx="498" cy="491.2" r="1.5" fill="none" stroke="#1e1e1e" stroke-width="0.85"/>
<circle cx="495" cy="497.3" r="1.5" fill="none" stroke="#1e1e1e" stroke-width="0.85"/>
<circle cx="500.6" cy="498.6" r="1.5" fill="none" stroke="#1e1e1e" stroke-width="0.85"/>
<circle cx="494.5" cy="507.2" r="1.5" fill="none" stroke="#1e1e1e" stroke-width="0.85"/>
<circle cx="500.6" cy="509" r="1.5" fill="none" stroke="#1e1e1e" stroke-width="0.85"/>
<circle cx="498" cy="511.5" r="1.5" fill="none" stroke="#1e1e1e" stroke-width="0.85"/>
<circle cx="498" cy="515" r="1.5" fill="none" stroke="#1e1e1e" stroke-width="0.85"/>
<text x="498.1" y="490.8" font-size="6.4" text-anchor="middle" fill="#333" stroke="#333" stroke-width="0.22">**</text>
<line x1="462.5" y1="467.8" x2="462.5" y2="545.5" stroke="#1a1a1a" stroke-width="1.05"/>
<line x1="462" y1="545" x2="513.1" y2="545" stroke="#1a1a1a" stroke-width="1.05"/>
<line x1="459.2" y1="545" x2="462.5" y2="545" stroke="#1a1a1a" stroke-width="0.9"/>
<text x="456.5" y="547.24" font-size="6.3" text-anchor="end" fill="#3c3c3c" stroke="#3c3c3c" stroke-width="0.22">0</text>
<line x1="459.2" y1="520.24" x2="462.5" y2="520.24" stroke="#1a1a1a" stroke-width="0.9"/>
<text x="456.5" y="522.47" font-size="6.3" text-anchor="end" fill="#3c3c3c" stroke="#3c3c3c" stroke-width="0.22">5</text>
<line x1="459.2" y1="495.47" x2="462.5" y2="495.47" stroke="#1a1a1a" stroke-width="0.9"/>
<text x="456.5" y="497.71" font-size="6.3" text-anchor="end" fill="#3c3c3c" stroke="#3c3c3c" stroke-width="0.22">10</text>
<line x1="459.2" y1="470.7" x2="462.5" y2="470.7" stroke="#1a1a1a" stroke-width="0.9"/>
<text x="456.5" y="472.94" font-size="6.3" text-anchor="end" fill="#3c3c3c" stroke="#3c3c3c" stroke-width="0.22">15</text>
<line x1="476.2" y1="545" x2="476.2" y2="547.8" stroke="#1a1a1a" stroke-width="0.9"/>
<line x1="498.1" y1="545" x2="498.1" y2="547.8" stroke="#1a1a1a" stroke-width="0.9"/>
<text x="446" y="506.2" font-size="8.3" text-anchor="middle" fill="#333" stroke="#333" stroke-width="0.22" transform="rotate(-90 446 506.2)" textLength="63.8" lengthAdjust="spacingAndGlyphs">CD45.2<tspan dy="-2.8" font-size="4.6">+</tspan><tspan dy="2.8"> cells (X10</tspan><tspan dy="-2.8" font-size="4.6">6</tspan><tspan dy="2.8">)</tspan></text>
<text x="476.5" y="557.5" font-size="6.6" text-anchor="middle" fill="#333" stroke="#333" stroke-width="0.22" font-style="italic" textLength="21" lengthAdjust="spacingAndGlyphs">Areg<tspan dy="-2.64" font-size="4.09">+/+</tspan></text>
<text x="498.4" y="557.5" font-size="6.6" text-anchor="middle" fill="#333" stroke="#333" stroke-width="0.22" font-style="italic" textLength="18.3" lengthAdjust="spacingAndGlyphs">Areg<tspan dy="-2.64" font-size="4.09">&#8211;/&#8211;</tspan></text>
<rect x="0.5" y="0.5" width="519" height="577" fill="none" stroke="#5a5a5a" stroke-width="1"/>
</svg>
</body></html>
